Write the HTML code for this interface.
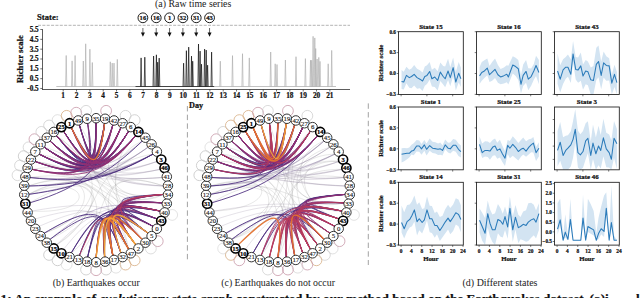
<!DOCTYPE html>
<html><head><meta charset="utf-8"><style>
html,body{margin:0;padding:0;background:#fff;width:640px;height:298px;overflow:hidden}
svg{display:block}
text{font-family:"Liberation Serif", serif}
text[font-weight=bold]{stroke:#111;stroke-width:0.22px;paint-order:fill}
</style></head><body>
<svg width="640" height="298" viewBox="0 0 640 298">
<rect width="640" height="298" fill="#fff"/>
<text x="193.2" y="7.2" font-size="9.85" text-anchor="middle" fill="#222">(a) Raw time series</text>
<text x="37.1" y="20.2" font-size="8.6" font-weight="bold" fill="#111">State:</text>
<line x1="38" y1="25.3" x2="350" y2="25.3" stroke="#9a9a9a" stroke-width="0.75" stroke-dasharray="3,1.36"/>
<circle cx="142.90" cy="17.8" r="4.9" fill="#fff" stroke="#111" stroke-width="0.95"/>
<text x="142.90" y="20.0" font-size="6.6" font-weight="bold" text-anchor="middle" fill="#111">16</text>
<line x1="142.90" y1="28.0" x2="142.90" y2="33.5" stroke="#444" stroke-width="0.8"/>
<path d="M140.90,32.4 L144.90,32.4 L142.90,36.8 Z" fill="#111"/>
<circle cx="156.23" cy="17.8" r="4.9" fill="#fff" stroke="#111" stroke-width="0.95"/>
<text x="156.23" y="20.0" font-size="6.6" font-weight="bold" text-anchor="middle" fill="#111">16</text>
<line x1="156.23" y1="28.0" x2="156.23" y2="33.5" stroke="#444" stroke-width="0.8"/>
<path d="M154.23,32.4 L158.23,32.4 L156.23,36.8 Z" fill="#111"/>
<circle cx="169.56" cy="17.8" r="4.9" fill="#fff" stroke="#111" stroke-width="0.95"/>
<text x="169.56" y="20.0" font-size="6.6" font-weight="bold" text-anchor="middle" fill="#111">1</text>
<line x1="169.56" y1="28.0" x2="169.56" y2="33.5" stroke="#444" stroke-width="0.8"/>
<path d="M167.56,32.4 L171.56,32.4 L169.56,36.8 Z" fill="#111"/>
<circle cx="182.90" cy="17.8" r="4.9" fill="#fff" stroke="#111" stroke-width="0.95"/>
<text x="182.90" y="20.0" font-size="6.6" font-weight="bold" text-anchor="middle" fill="#111">32</text>
<line x1="182.90" y1="28.0" x2="182.90" y2="33.5" stroke="#444" stroke-width="0.8"/>
<path d="M180.90,32.4 L184.90,32.4 L182.90,36.8 Z" fill="#111"/>
<circle cx="196.23" cy="17.8" r="4.9" fill="#fff" stroke="#111" stroke-width="0.95"/>
<text x="196.23" y="20.0" font-size="6.6" font-weight="bold" text-anchor="middle" fill="#111">31</text>
<line x1="196.23" y1="28.0" x2="196.23" y2="33.5" stroke="#444" stroke-width="0.8"/>
<path d="M194.23,32.4 L198.23,32.4 L196.23,36.8 Z" fill="#111"/>
<circle cx="209.56" cy="17.8" r="4.9" fill="#fff" stroke="#111" stroke-width="0.95"/>
<text x="209.56" y="20.0" font-size="6.6" font-weight="bold" text-anchor="middle" fill="#111">43</text>
<line x1="209.56" y1="28.0" x2="209.56" y2="33.5" stroke="#444" stroke-width="0.8"/>
<path d="M207.56,32.4 L211.56,32.4 L209.56,36.8 Z" fill="#111"/>
<line x1="42.5" y1="29.2" x2="42.5" y2="89.9" stroke="#333" stroke-width="0.8"/>
<line x1="42.1" y1="89.5" x2="350" y2="89.5" stroke="#333" stroke-width="0.8"/>
<line x1="40.3" y1="29.50" x2="42.5" y2="29.50" stroke="#333" stroke-width="0.7"/>
<text x="38.7" y="31.95" font-size="7.2" font-weight="bold" text-anchor="end" fill="#111">5.5</text>
<line x1="40.3" y1="39.33" x2="42.5" y2="39.33" stroke="#333" stroke-width="0.7"/>
<text x="38.7" y="41.78" font-size="7.2" font-weight="bold" text-anchor="end" fill="#111">4.5</text>
<line x1="40.3" y1="49.16" x2="42.5" y2="49.16" stroke="#333" stroke-width="0.7"/>
<text x="38.7" y="51.61" font-size="7.2" font-weight="bold" text-anchor="end" fill="#111">3.5</text>
<line x1="40.3" y1="58.99" x2="42.5" y2="58.99" stroke="#333" stroke-width="0.7"/>
<text x="38.7" y="61.44" font-size="7.2" font-weight="bold" text-anchor="end" fill="#111">2.5</text>
<line x1="40.3" y1="68.82" x2="42.5" y2="68.82" stroke="#333" stroke-width="0.7"/>
<text x="38.7" y="71.27" font-size="7.2" font-weight="bold" text-anchor="end" fill="#111">1.5</text>
<line x1="40.3" y1="78.65" x2="42.5" y2="78.65" stroke="#333" stroke-width="0.7"/>
<text x="38.7" y="81.10" font-size="7.2" font-weight="bold" text-anchor="end" fill="#111">0.5</text>
<line x1="40.3" y1="88.48" x2="42.5" y2="88.48" stroke="#333" stroke-width="0.7"/>
<text x="38.7" y="90.93" font-size="7.2" font-weight="bold" text-anchor="end" fill="#111">-0.5</text>
<text transform="translate(22.5,59) rotate(-90)" font-size="8.7" font-weight="bold" text-anchor="middle" fill="#111">Richter scale</text>
<line x1="63.20" y1="89.5" x2="63.20" y2="91.5" stroke="#333" stroke-width="0.7"/>
<text x="63.20" y="97.9" font-size="7.3" font-weight="bold" text-anchor="middle" fill="#111">1</text>
<line x1="76.53" y1="89.5" x2="76.53" y2="91.5" stroke="#333" stroke-width="0.7"/>
<text x="76.53" y="97.9" font-size="7.3" font-weight="bold" text-anchor="middle" fill="#111">2</text>
<line x1="89.87" y1="89.5" x2="89.87" y2="91.5" stroke="#333" stroke-width="0.7"/>
<text x="89.87" y="97.9" font-size="7.3" font-weight="bold" text-anchor="middle" fill="#111">3</text>
<line x1="103.20" y1="89.5" x2="103.20" y2="91.5" stroke="#333" stroke-width="0.7"/>
<text x="103.20" y="97.9" font-size="7.3" font-weight="bold" text-anchor="middle" fill="#111">4</text>
<line x1="116.53" y1="89.5" x2="116.53" y2="91.5" stroke="#333" stroke-width="0.7"/>
<text x="116.53" y="97.9" font-size="7.3" font-weight="bold" text-anchor="middle" fill="#111">5</text>
<line x1="129.87" y1="89.5" x2="129.87" y2="91.5" stroke="#333" stroke-width="0.7"/>
<text x="129.87" y="97.9" font-size="7.3" font-weight="bold" text-anchor="middle" fill="#111">6</text>
<line x1="143.20" y1="89.5" x2="143.20" y2="91.5" stroke="#333" stroke-width="0.7"/>
<text x="143.20" y="97.9" font-size="7.3" font-weight="bold" text-anchor="middle" fill="#111">7</text>
<line x1="156.53" y1="89.5" x2="156.53" y2="91.5" stroke="#333" stroke-width="0.7"/>
<text x="156.53" y="97.9" font-size="7.3" font-weight="bold" text-anchor="middle" fill="#111">8</text>
<line x1="169.86" y1="89.5" x2="169.86" y2="91.5" stroke="#333" stroke-width="0.7"/>
<text x="169.86" y="97.9" font-size="7.3" font-weight="bold" text-anchor="middle" fill="#111">9</text>
<line x1="183.20" y1="89.5" x2="183.20" y2="91.5" stroke="#333" stroke-width="0.7"/>
<text x="183.20" y="97.9" font-size="7.3" font-weight="bold" text-anchor="middle" fill="#111">10</text>
<line x1="196.53" y1="89.5" x2="196.53" y2="91.5" stroke="#333" stroke-width="0.7"/>
<text x="196.53" y="97.9" font-size="7.3" font-weight="bold" text-anchor="middle" fill="#111">11</text>
<line x1="209.86" y1="89.5" x2="209.86" y2="91.5" stroke="#333" stroke-width="0.7"/>
<text x="209.86" y="97.9" font-size="7.3" font-weight="bold" text-anchor="middle" fill="#111">12</text>
<line x1="223.20" y1="89.5" x2="223.20" y2="91.5" stroke="#333" stroke-width="0.7"/>
<text x="223.20" y="97.9" font-size="7.3" font-weight="bold" text-anchor="middle" fill="#111">13</text>
<line x1="236.53" y1="89.5" x2="236.53" y2="91.5" stroke="#333" stroke-width="0.7"/>
<text x="236.53" y="97.9" font-size="7.3" font-weight="bold" text-anchor="middle" fill="#111">14</text>
<line x1="249.86" y1="89.5" x2="249.86" y2="91.5" stroke="#333" stroke-width="0.7"/>
<text x="249.86" y="97.9" font-size="7.3" font-weight="bold" text-anchor="middle" fill="#111">15</text>
<line x1="263.19" y1="89.5" x2="263.19" y2="91.5" stroke="#333" stroke-width="0.7"/>
<text x="263.19" y="97.9" font-size="7.3" font-weight="bold" text-anchor="middle" fill="#111">16</text>
<line x1="276.53" y1="89.5" x2="276.53" y2="91.5" stroke="#333" stroke-width="0.7"/>
<text x="276.53" y="97.9" font-size="7.3" font-weight="bold" text-anchor="middle" fill="#111">17</text>
<line x1="289.86" y1="89.5" x2="289.86" y2="91.5" stroke="#333" stroke-width="0.7"/>
<text x="289.86" y="97.9" font-size="7.3" font-weight="bold" text-anchor="middle" fill="#111">18</text>
<line x1="303.19" y1="89.5" x2="303.19" y2="91.5" stroke="#333" stroke-width="0.7"/>
<text x="303.19" y="97.9" font-size="7.3" font-weight="bold" text-anchor="middle" fill="#111">19</text>
<line x1="316.53" y1="89.5" x2="316.53" y2="91.5" stroke="#333" stroke-width="0.7"/>
<text x="316.53" y="97.9" font-size="7.3" font-weight="bold" text-anchor="middle" fill="#111">20</text>
<line x1="329.86" y1="89.5" x2="329.86" y2="91.5" stroke="#333" stroke-width="0.7"/>
<text x="329.86" y="97.9" font-size="7.3" font-weight="bold" text-anchor="middle" fill="#111">21</text>
<text x="189.1" y="108.4" font-size="8.2" font-weight="bold" fill="#111">Day</text>
<line x1="56.3" y1="86.5" x2="336" y2="86.5" stroke="#b4b4b4" stroke-width="0.8"/>
<line x1="135.5" y1="86.5" x2="214.2" y2="86.5" stroke="#222" stroke-width="0.8"/>
<path d="M65.60,86.5 L66.20,55.50 L66.80,86.5 M71.50,86.5 L72.10,60.90 L72.70,86.5 M74.50,86.5 L75.10,55.50 L75.70,86.5 M82.70,86.5 L83.30,61.00 L83.90,86.5 M85.10,86.5 L85.70,43.80 L86.30,86.5 M89.30,86.5 L89.90,49.20 L90.50,86.5 M91.70,86.5 L92.30,62.50 L92.90,86.5 M109.70,86.5 L110.30,61.80 L110.90,86.5 M111.60,86.5 L112.20,63.10 L112.80,86.5 M113.40,86.5 L114.00,63.10 L114.60,86.5 M116.70,86.5 L117.30,59.40 L117.90,86.5 " fill="none" stroke="#a8a8a8" stroke-width="0.6" stroke-linejoin="miter"/>
<path d="M219.70,86.5 L220.30,61.20 L220.90,86.5 M231.90,86.5 L232.50,55.60 L233.10,86.5 M241.90,86.5 L242.50,53.70 L243.10,86.5 M248.70,86.5 L249.30,57.90 L249.90,86.5 M270.10,86.5 L270.70,52.00 L271.30,86.5 M274.60,86.5 L275.20,63.80 L275.80,86.5 M276.40,86.5 L277.00,64.50 L277.60,86.5 M284.80,86.5 L285.40,60.00 L286.00,86.5 M295.40,86.5 L296.00,56.70 L296.60,86.5 M304.80,86.5 L305.40,58.60 L306.00,86.5 M309.90,86.5 L310.50,60.20 L311.10,86.5 M311.10,86.5 L311.70,60.20 L312.30,86.5 M312.50,86.5 L313.10,36.30 L313.70,86.5 M314.20,86.5 L314.80,37.90 L315.40,86.5 M315.10,86.5 L315.70,48.50 L316.30,86.5 M316.50,86.5 L317.10,59.00 L317.70,86.5 M318.20,86.5 L318.80,57.40 L319.40,86.5 M319.40,86.5 L320.00,61.40 L320.60,86.5 M327.60,86.5 L328.20,63.80 L328.80,86.5 M331.10,86.5 L331.70,50.40 L332.30,86.5 " fill="none" stroke="#a8a8a8" stroke-width="0.6" stroke-linejoin="miter"/>
<path d="M140.50,86.5 L141.10,57.90 L141.70,86.5 M144.20,86.5 L144.80,57.20 L145.40,86.5 M153.00,86.5 L153.60,56.00 L154.20,86.5 M155.80,86.5 L156.40,54.80 L157.00,86.5 M157.10,86.5 L157.70,62.20 L158.30,86.5 M158.60,86.5 L159.20,58.10 L159.80,86.5 M183.00,86.5 L183.60,63.20 L184.20,86.5 M185.80,86.5 L186.40,50.70 L187.00,86.5 M188.10,86.5 L188.70,47.10 L189.30,86.5 M190.90,86.5 L191.50,56.10 L192.10,86.5 M192.10,86.5 L192.70,61.20 L193.30,86.5 M197.90,86.5 L198.50,44.00 L199.10,86.5 M199.50,86.5 L200.10,51.10 L200.70,86.5 M200.90,86.5 L201.50,64.20 L202.10,86.5 M204.00,86.5 L204.60,49.10 L205.20,86.5 M205.60,86.5 L206.20,50.10 L206.80,86.5 M207.00,86.5 L207.60,65.20 L208.20,86.5 M211.00,86.5 L211.60,52.10 L212.20,86.5 " fill="none" stroke="#111" stroke-width="0.7" stroke-linejoin="miter"/>
<line x1="187.4" y1="106" x2="187.4" y2="261" stroke="#8a8a8a" stroke-width="0.8" stroke-dasharray="5.4,3.3"/>
<line x1="368.3" y1="103.4" x2="368.3" y2="265" stroke="#8a8a8a" stroke-width="0.8" stroke-dasharray="5.4,3.3"/>
<circle cx="17.52" cy="175.21" r="5.4" fill="none" stroke="#c9c9c9" stroke-width="0.9" stroke-opacity="0.75"/>
<circle cx="20.02" cy="165.48" r="5.4" fill="none" stroke="#c9c9c9" stroke-width="0.9" stroke-opacity="0.80"/>
<circle cx="23.71" cy="156.14" r="5.4" fill="none" stroke="#c9c9c9" stroke-width="0.9" stroke-opacity="0.97"/>
<circle cx="28.55" cy="147.33" r="5.4" fill="none" stroke="#c9c9c9" stroke-width="0.9" stroke-opacity="0.76"/>
<circle cx="34.46" cy="139.21" r="5.4" fill="none" stroke="#c99aaa" stroke-width="0.9" stroke-opacity="0.90"/>
<circle cx="41.34" cy="131.88" r="5.4" fill="none" stroke="#c9c9c9" stroke-width="0.9" stroke-opacity="0.78"/>
<circle cx="49.08" cy="125.48" r="5.4" fill="none" stroke="#c9c9c9" stroke-width="0.9" stroke-opacity="0.81"/>
<circle cx="57.56" cy="120.10" r="5.4" fill="none" stroke="#c9c9c9" stroke-width="0.9" stroke-opacity="0.63"/>
<circle cx="66.65" cy="115.82" r="5.4" fill="none" stroke="#d7ae85" stroke-width="0.9" stroke-opacity="0.90"/>
<circle cx="76.20" cy="112.71" r="5.4" fill="none" stroke="#c99aaa" stroke-width="0.9" stroke-opacity="0.90"/>
<circle cx="86.07" cy="110.83" r="5.4" fill="none" stroke="#c9c9c9" stroke-width="0.9" stroke-opacity="0.78"/>
<circle cx="106.13" cy="110.83" r="5.4" fill="none" stroke="#c99aaa" stroke-width="0.9" stroke-opacity="0.90"/>
<circle cx="125.55" cy="115.82" r="5.4" fill="none" stroke="#c9c9c9" stroke-width="0.9" stroke-opacity="0.83"/>
<circle cx="134.64" cy="120.10" r="5.4" fill="none" stroke="#c9c9c9" stroke-width="0.9" stroke-opacity="0.91"/>
<circle cx="172.18" cy="214.92" r="5.4" fill="none" stroke="#c9c9c9" stroke-width="0.9" stroke-opacity="0.59"/>
<circle cx="157.74" cy="241.19" r="5.4" fill="none" stroke="#c99aaa" stroke-width="0.9" stroke-opacity="0.90"/>
<circle cx="150.86" cy="248.52" r="5.4" fill="none" stroke="#c9c9c9" stroke-width="0.9" stroke-opacity="0.69"/>
<circle cx="134.64" cy="260.30" r="5.4" fill="none" stroke="#d7ae85" stroke-width="0.9" stroke-opacity="0.90"/>
<circle cx="125.55" cy="264.58" r="5.4" fill="none" stroke="#d7ae85" stroke-width="0.9" stroke-opacity="0.90"/>
<circle cx="116.00" cy="267.69" r="5.4" fill="none" stroke="#c9c9c9" stroke-width="0.9" stroke-opacity="0.59"/>
<circle cx="106.13" cy="269.57" r="5.4" fill="none" stroke="#c9c9c9" stroke-width="0.9" stroke-opacity="0.91"/>
<circle cx="96.10" cy="270.20" r="5.4" fill="none" stroke="#c99aaa" stroke-width="0.9" stroke-opacity="0.90"/>
<circle cx="86.07" cy="269.57" r="5.4" fill="none" stroke="#c9c9c9" stroke-width="0.9" stroke-opacity="0.86"/>
<circle cx="66.65" cy="264.58" r="5.4" fill="none" stroke="#c9c9c9" stroke-width="0.9" stroke-opacity="0.57"/>
<circle cx="57.56" cy="260.30" r="5.4" fill="none" stroke="#c9c9c9" stroke-width="0.9" stroke-opacity="0.99"/>
<circle cx="49.08" cy="254.92" r="5.4" fill="none" stroke="#c9c9c9" stroke-width="0.9" stroke-opacity="0.98"/>
<path d="M135.8,135.5 C99.9,167.3 121.7,214.6 128.7,249.4 M112.9,124.7 C102.3,167.1 105.1,204.9 163.6,194.4 M34.9,161.4 C91.0,168.4 108.2,205.6 157.3,219.0 M44.0,147.1 C99.6,161.9 103.5,216.3 163.6,194.4 M79.3,124.7 C100.4,157.2 113.9,210.4 148.2,233.3 M31.8,169.3 C105.4,156.3 117.7,217.6 163.6,194.4 M34.9,161.4 C89.0,169.7 112.0,213.7 148.2,233.3 M39.0,154.0 C104.7,165.9 122.3,216.7 148.2,233.3 M56.4,135.5 C90.8,158.5 102.6,205.1 163.6,194.4 M56.4,135.5 C96.2,164.5 116.1,205.1 44.0,233.3 M71.2,127.3 C93.6,160.6 110.6,214.1 121.0,253.1 M28.6,194.4 C105.5,156.5 117.1,216.0 128.7,249.4 M29.7,202.9 C101.0,161.3 113.0,204.3 56.4,244.9 M28.6,194.4 C86.4,169.6 103.8,214.8 31.8,211.1 M163.6,186.0 C90.4,161.2 111.7,215.1 79.3,255.7 M29.7,177.5 C100.1,167.4 119.7,204.7 49.8,239.5 M28.6,186.0 C90.3,164.8 121.1,209.0 142.4,239.5 M153.2,154.0 C84.3,165.8 106.4,215.4 56.4,244.9 M142.4,140.9 C99.4,160.5 110.7,214.3 153.2,226.4 M28.6,186.0 C94.9,161.9 104.8,212.5 44.0,233.3 M163.6,186.0 C93.0,162.1 100.4,217.0 128.7,249.4 M28.6,194.4 C90.1,159.1 122.7,212.1 71.2,253.1 " fill="none" stroke="#8d8d8d" stroke-width="0.45" stroke-opacity="0.45"/>
<path d="M28.6,194.4 C83.1,185.3 107.0,175.9 148.2,147.1" fill="none" stroke="#6a5590" stroke-width="0.60" stroke-opacity="0.6"/>
<path d="M28.6,186.0 C81.9,183.4 106.8,177.0 153.2,154.0" fill="none" stroke="#6a5590" stroke-width="0.60" stroke-opacity="0.6"/>
<path d="M29.7,177.5 C83.1,181.1 107.8,176.4 153.2,154.0" fill="none" stroke="#6a5590" stroke-width="0.60" stroke-opacity="0.6"/>
<path d="M49.8,140.9 C86.1,173.4 104.6,173.4 142.4,140.9" fill="none" stroke="#8c7f98" stroke-width="0.50" stroke-opacity="0.45"/>
<path d="M29.7,177.5 C84.2,182.6 106.8,175.3 142.4,140.9" fill="none" stroke="#8c7f98" stroke-width="0.50" stroke-opacity="0.45"/>
<path d="M63.5,131.0 C89.6,172.2 105.4,174.2 142.4,140.9" fill="none" stroke="#8c7f98" stroke-width="0.50" stroke-opacity="0.45"/>
<path d="M44.0,147.1 C87.4,176.1 108.3,176.1 148.2,147.1" fill="none" stroke="#8c7f98" stroke-width="0.50" stroke-opacity="0.45"/>
<path d="M28.6,186.0 C82.4,185.0 106.4,177.2 148.2,147.1" fill="none" stroke="#8c7f98" stroke-width="0.50" stroke-opacity="0.45"/>
<path d="M63.5,131.0 C90.2,172.5 107.1,175.8 148.2,147.1" fill="none" stroke="#8c7f98" stroke-width="0.50" stroke-opacity="0.45"/>
<path d="M71.2,127.3 C93.0,172.0 109.4,177.3 153.2,154.0" fill="none" stroke="#8c7f98" stroke-width="0.50" stroke-opacity="0.45"/>
<path d="M39.0,154.0 C85.0,178.0 107.8,178.0 153.2,154.0" fill="none" stroke="#8c7f98" stroke-width="0.50" stroke-opacity="0.45"/>
<path d="M29.7,177.5 C82.8,183.2 107.5,178.5 153.2,154.0" fill="none" stroke="#8c7f98" stroke-width="0.50" stroke-opacity="0.45"/>
<path d="M39.0,154.0 C84.0,177.7 107.6,179.1 157.3,161.4" fill="none" stroke="#8c7f98" stroke-width="0.50" stroke-opacity="0.45"/>
<path d="M63.5,131.0 C90.8,172.1 109.5,178.2 157.3,161.4" fill="none" stroke="#8c7f98" stroke-width="0.50" stroke-opacity="0.45"/>
<path d="M63.5,131.0 C89.2,171.2 107.9,177.3 157.3,161.4" fill="none" stroke="#8c7f98" stroke-width="0.50" stroke-opacity="0.45"/>
<path d="M44.0,147.1 C87.5,175.4 110.8,179.8 160.4,169.3" fill="none" stroke="#8c7f98" stroke-width="0.50" stroke-opacity="0.45"/>
<path d="M71.2,127.3 C92.9,170.9 110.7,179.3 160.4,169.3" fill="none" stroke="#8c7f98" stroke-width="0.50" stroke-opacity="0.45"/>
<path d="M39.0,154.0 C83.6,177.9 107.8,180.9 160.4,169.3" fill="none" stroke="#8c7f98" stroke-width="0.50" stroke-opacity="0.45"/>
<path d="M44.0,147.1 C87.6,175.2 111.3,181.3 162.5,177.5" fill="none" stroke="#8c7f98" stroke-width="0.50" stroke-opacity="0.45"/>
<path d="M31.8,169.3 C82.2,179.3 108.3,180.9 162.5,177.5" fill="none" stroke="#8c7f98" stroke-width="0.50" stroke-opacity="0.45"/>
<path d="M49.8,140.9 C86.9,174.7 109.4,182.0 162.5,177.5" fill="none" stroke="#8c7f98" stroke-width="0.50" stroke-opacity="0.45"/>
<path d="M49.8,140.9 C87.4,173.9 110.2,182.9 163.6,186.0" fill="none" stroke="#8c7f98" stroke-width="0.50" stroke-opacity="0.45"/>
<path d="M71.2,127.3 C91.4,170.5 109.9,182.3 163.6,186.0" fill="none" stroke="#8c7f98" stroke-width="0.50" stroke-opacity="0.45"/>
<path d="M79.3,124.7 C93.1,172.6 110.0,184.9 163.6,186.0" fill="none" stroke="#8c7f98" stroke-width="0.50" stroke-opacity="0.45"/>
<path d="M29.7,202.9 C83.9,186.4 100.6,170.8 112.9,124.7" fill="none" stroke="#4a2a7c" stroke-width="1.00" stroke-opacity="0.85"/>
<path d="M28.6,194.4 C83.0,187.0 105.7,176.3 142.4,140.9" fill="none" stroke="#4a2a7c" stroke-width="1.00" stroke-opacity="0.85"/>
<path d="M28.6,186.0 C83.1,184.9 108.0,178.5 153.2,154.0" fill="none" stroke="#4a2a7c" stroke-width="1.00" stroke-opacity="0.85"/>
<path d="M29.7,177.5 C84.4,183.3 109.1,178.6 153.2,154.0" fill="none" stroke="#4a2a7c" stroke-width="1.00" stroke-opacity="0.85"/>
<path d="M31.8,169.3 C82.1,179.2 98.3,170.3 112.9,124.7" fill="none" stroke="#4a2a7c" stroke-width="1.00" stroke-opacity="0.85"/>
<path d="M34.9,161.4 C83.6,179.5 103.8,174.3 135.8,135.5" fill="none" stroke="#4a2a7c" stroke-width="1.00" stroke-opacity="0.85"/>
<path d="M34.9,161.4 C84.6,179.6 96.9,171.8 96.1,122.6" fill="none" stroke="#4a2a7c" stroke-width="1.00" stroke-opacity="0.85"/>
<path d="M34.9,161.4 C82.8,178.4 98.3,171.0 112.9,124.7" fill="none" stroke="#4a2a7c" stroke-width="1.00" stroke-opacity="0.85"/>
<path d="M39.0,154.0 C85.7,178.4 98.8,172.2 104.6,123.1" fill="none" stroke="#4a2a7c" stroke-width="1.00" stroke-opacity="0.85"/>
<path d="M39.0,154.0 C83.9,175.8 103.3,172.1 135.8,135.5" fill="none" stroke="#4a2a7c" stroke-width="1.00" stroke-opacity="0.85"/>
<path d="M39.0,154.0 C85.3,177.9 103.2,173.3 128.7,131.0" fill="none" stroke="#4a2a7c" stroke-width="1.00" stroke-opacity="0.85"/>
<path d="M39.0,154.0 C83.8,178.0 103.2,174.3 135.8,135.5" fill="none" stroke="#4a2a7c" stroke-width="1.00" stroke-opacity="0.85"/>
<path d="M44.0,147.1 C85.1,175.8 102.0,172.5 128.7,131.0" fill="none" stroke="#4a2a7c" stroke-width="1.00" stroke-opacity="0.85"/>
<path d="M44.0,147.1 C87.1,176.3 99.2,171.5 104.6,123.1" fill="none" stroke="#4a2a7c" stroke-width="1.00" stroke-opacity="0.85"/>
<path d="M44.0,147.1 C86.7,177.4 98.8,172.6 104.6,123.1" fill="none" stroke="#4a2a7c" stroke-width="1.00" stroke-opacity="0.85"/>
<path d="M44.0,147.1 C86.6,177.1 102.0,173.2 121.0,127.3" fill="none" stroke="#4a2a7c" stroke-width="1.00" stroke-opacity="0.85"/>
<path d="M49.8,140.9 C88.3,174.7 105.5,173.6 135.8,135.5" fill="none" stroke="#4a2a7c" stroke-width="1.00" stroke-opacity="0.85"/>
<path d="M49.8,140.9 C87.8,175.4 98.8,171.9 104.6,123.1" fill="none" stroke="#4a2a7c" stroke-width="1.00" stroke-opacity="0.85"/>
<path d="M49.8,140.9 C88.5,174.6 101.1,171.4 112.9,124.7" fill="none" stroke="#4a2a7c" stroke-width="1.00" stroke-opacity="0.85"/>
<path d="M49.8,140.9 C88.1,174.1 103.8,172.1 128.7,131.0" fill="none" stroke="#4a2a7c" stroke-width="1.00" stroke-opacity="0.85"/>
<path d="M56.4,135.5 C87.0,174.6 96.6,172.1 104.6,123.1" fill="none" stroke="#4a2a7c" stroke-width="1.00" stroke-opacity="0.85"/>
<path d="M56.4,135.5 C88.8,174.1 103.3,173.2 128.7,131.0" fill="none" stroke="#4a2a7c" stroke-width="1.00" stroke-opacity="0.85"/>
<path d="M56.4,135.5 C88.5,173.1 98.1,170.6 104.6,123.1" fill="none" stroke="#4a2a7c" stroke-width="1.00" stroke-opacity="0.85"/>
<path d="M56.4,135.5 C87.5,174.3 97.1,171.8 104.6,123.1" fill="none" stroke="#4a2a7c" stroke-width="1.00" stroke-opacity="0.85"/>
<path d="M63.5,131.0 C91.2,174.3 102.7,173.5 121.0,127.3" fill="none" stroke="#4a2a7c" stroke-width="1.00" stroke-opacity="0.85"/>
<path d="M63.5,131.0 C90.1,172.5 101.6,171.8 121.0,127.3" fill="none" stroke="#4a2a7c" stroke-width="1.00" stroke-opacity="0.85"/>
<path d="M63.5,131.0 C90.1,171.3 96.6,169.6 96.1,122.6" fill="none" stroke="#4a2a7c" stroke-width="1.00" stroke-opacity="0.85"/>
<path d="M63.5,131.0 C90.7,172.0 98.9,170.4 104.6,123.1" fill="none" stroke="#4a2a7c" stroke-width="1.00" stroke-opacity="0.85"/>
<path d="M71.2,127.3 C90.2,170.6 100.1,170.6 121.0,127.3" fill="none" stroke="#4a2a7c" stroke-width="1.00" stroke-opacity="0.85"/>
<path d="M71.2,127.3 C92.9,171.5 104.4,172.2 128.7,131.0" fill="none" stroke="#4a2a7c" stroke-width="1.00" stroke-opacity="0.85"/>
<path d="M79.3,124.7 C92.9,170.1 96.3,169.7 96.1,122.6" fill="none" stroke="#4a2a7c" stroke-width="1.00" stroke-opacity="0.85"/>
<path d="M79.3,124.7 C92.8,171.5 101.2,172.0 121.0,127.3" fill="none" stroke="#4a2a7c" stroke-width="1.00" stroke-opacity="0.85"/>
<path d="M79.3,124.7 C91.9,170.3 95.3,169.9 96.1,122.6" fill="none" stroke="#4a2a7c" stroke-width="1.00" stroke-opacity="0.85"/>
<path d="M79.3,124.7 C93.5,172.5 103.4,173.8 128.7,131.0" fill="none" stroke="#4a2a7c" stroke-width="1.00" stroke-opacity="0.85"/>
<path d="M56.4,135.5 C87.3,174.9 93.6,172.5 87.6,123.1" fill="none" stroke="#4a2a7c" stroke-width="1.00" stroke-opacity="0.85"/>
<path d="M44.0,147.1 C87.7,176.6 96.4,171.8 87.6,123.1" fill="none" stroke="#4a2a7c" stroke-width="1.00" stroke-opacity="0.85"/>
<path d="M44.0,147.1 C85.9,175.0 96.3,170.1 96.1,122.6" fill="none" stroke="#4a2a7c" stroke-width="1.00" stroke-opacity="0.85"/>
<path d="M49.8,140.9 C86.2,175.7 95.5,172.0 96.1,122.6" fill="none" stroke="#4a2a7c" stroke-width="1.00" stroke-opacity="0.85"/>
<path d="M56.4,135.5 C87.2,172.7 96.8,170.3 104.6,123.1" fill="none" stroke="#4a2a7c" stroke-width="1.00" stroke-opacity="0.85"/>
<path d="M63.5,131.0 C90.2,173.3 98.4,171.7 104.6,123.1" fill="none" stroke="#4a2a7c" stroke-width="1.00" stroke-opacity="0.85"/>
<path d="M44.0,147.1 C86.9,175.3 103.8,172.0 128.7,131.0" fill="none" stroke="#4a2a7c" stroke-width="1.00" stroke-opacity="0.85"/>
<path d="M71.2,127.3 C91.8,170.8 103.2,171.5 128.7,131.0" fill="none" stroke="#4a2a7c" stroke-width="1.00" stroke-opacity="0.85"/>
<path d="M39.0,154.0 C84.8,177.8 104.1,174.1 135.8,135.5" fill="none" stroke="#4a2a7c" stroke-width="1.00" stroke-opacity="0.85"/>
<path d="M56.4,135.5 C87.0,172.4 102.9,172.4 135.8,135.5" fill="none" stroke="#4a2a7c" stroke-width="1.00" stroke-opacity="0.85"/>
<path d="M31.8,169.3 C84.2,180.4 95.4,171.2 87.6,123.1" fill="none" stroke="#922f72" stroke-width="1.00" stroke-opacity="0.85"/>
<path d="M31.8,169.3 C83.2,180.9 104.0,174.2 135.8,135.5" fill="none" stroke="#922f72" stroke-width="1.00" stroke-opacity="0.85"/>
<path d="M31.8,169.3 C85.0,179.3 97.8,169.9 96.1,122.6" fill="none" stroke="#922f72" stroke-width="1.00" stroke-opacity="0.85"/>
<path d="M34.9,161.4 C83.6,179.1 100.8,172.2 121.0,127.3" fill="none" stroke="#922f72" stroke-width="1.00" stroke-opacity="0.85"/>
<path d="M34.9,161.4 C84.8,178.2 105.0,173.0 135.8,135.5" fill="none" stroke="#922f72" stroke-width="1.00" stroke-opacity="0.85"/>
<path d="M39.0,154.0 C86.5,177.5 104.4,172.9 128.7,131.0" fill="none" stroke="#922f72" stroke-width="1.00" stroke-opacity="0.85"/>
<path d="M44.0,147.1 C85.2,174.6 97.3,169.8 104.6,123.1" fill="none" stroke="#922f72" stroke-width="1.00" stroke-opacity="0.85"/>
<path d="M44.0,147.1 C85.2,177.0 103.6,174.7 135.8,135.5" fill="none" stroke="#922f72" stroke-width="1.00" stroke-opacity="0.85"/>
<path d="M49.8,140.9 C86.6,176.3 99.2,173.0 112.9,124.7" fill="none" stroke="#922f72" stroke-width="1.00" stroke-opacity="0.85"/>
<path d="M49.8,140.9 C88.2,175.9 105.4,174.8 135.8,135.5" fill="none" stroke="#922f72" stroke-width="1.00" stroke-opacity="0.85"/>
<path d="M56.4,135.5 C88.4,173.3 102.9,172.4 128.7,131.0" fill="none" stroke="#922f72" stroke-width="1.00" stroke-opacity="0.85"/>
<path d="M56.4,135.5 C87.4,172.1 103.3,172.1 135.8,135.5" fill="none" stroke="#922f72" stroke-width="1.00" stroke-opacity="0.85"/>
<path d="M63.5,131.0 C89.5,173.0 103.9,173.9 135.8,135.5" fill="none" stroke="#922f72" stroke-width="1.00" stroke-opacity="0.85"/>
<path d="M63.5,131.0 C88.5,173.9 101.5,173.9 128.7,131.0" fill="none" stroke="#922f72" stroke-width="1.00" stroke-opacity="0.85"/>
<path d="M71.2,127.3 C91.5,171.9 96.5,170.9 96.1,122.6" fill="none" stroke="#922f72" stroke-width="1.00" stroke-opacity="0.85"/>
<path d="M71.2,127.3 C91.2,171.9 104.1,173.5 135.8,135.5" fill="none" stroke="#922f72" stroke-width="1.00" stroke-opacity="0.85"/>
<path d="M71.2,127.3 C93.0,170.8 103.0,170.8 121.0,127.3" fill="none" stroke="#922f72" stroke-width="1.00" stroke-opacity="0.85"/>
<path d="M71.2,127.3 C91.6,172.2 98.3,171.3 104.6,123.1" fill="none" stroke="#922f72" stroke-width="1.00" stroke-opacity="0.85"/>
<path d="M79.3,124.7 C92.8,172.6 101.1,173.1 121.0,127.3" fill="none" stroke="#922f72" stroke-width="1.00" stroke-opacity="0.85"/>
<path d="M56.4,135.5 C90.0,173.4 101.3,171.3 112.9,124.7" fill="none" stroke="#922f72" stroke-width="1.00" stroke-opacity="0.85"/>
<path d="M49.8,140.9 C88.2,175.5 100.8,172.3 112.9,124.7" fill="none" stroke="#922f72" stroke-width="1.00" stroke-opacity="0.85"/>
<path d="M71.2,127.3 C90.2,173.3 100.1,173.3 121.0,127.3" fill="none" stroke="#922f72" stroke-width="1.00" stroke-opacity="0.85"/>
<path d="M39.0,154.0 C85.1,176.4 101.4,171.1 121.0,127.3" fill="none" stroke="#922f72" stroke-width="1.00" stroke-opacity="0.85"/>
<path d="M71.2,127.3 C92.2,171.6 98.8,170.8 104.6,123.1" fill="none" stroke="#e3722f" stroke-width="1.30" stroke-opacity="0.95"/>
<path d="M63.5,249.4 C96.5,208.2 109.2,205.7 148.2,233.3" fill="none" stroke="#8c7f98" stroke-width="0.50" stroke-opacity="0.45"/>
<path d="M56.4,244.9 C95.6,207.3 111.2,202.2 160.4,211.1" fill="none" stroke="#8c7f98" stroke-width="0.50" stroke-opacity="0.45"/>
<path d="M49.8,239.5 C93.3,203.6 109.9,199.3 160.4,211.1" fill="none" stroke="#6a5590" stroke-width="0.60" stroke-opacity="0.6"/>
<path d="M44.0,233.3 C93.5,204.3 102.6,207.9 104.6,257.3" fill="none" stroke="#6a5590" stroke-width="0.60" stroke-opacity="0.6"/>
<path d="M39.0,226.4 C92.9,202.9 107.4,205.6 135.8,244.9" fill="none" stroke="#8c7f98" stroke-width="0.50" stroke-opacity="0.45"/>
<path d="M34.9,219.0 C92.5,202.9 105.4,208.0 121.0,253.1" fill="none" stroke="#8c7f98" stroke-width="0.50" stroke-opacity="0.45"/>
<path d="M31.8,211.1 C93.0,200.3 110.4,203.7 148.2,233.3" fill="none" stroke="#8c7f98" stroke-width="0.50" stroke-opacity="0.45"/>
<path d="M163.6,194.4 C111.1,199.6 103.5,208.8 112.9,255.7" fill="none" stroke="#6a5590" stroke-width="0.60" stroke-opacity="0.6"/>
<path d="M163.6,194.4 C110.4,197.2 108.1,203.0 148.2,233.3" fill="none" stroke="#6a5590" stroke-width="0.60" stroke-opacity="0.6"/>
<path d="M163.6,194.4 C110.7,197.1 105.4,205.3 128.7,249.4" fill="none" stroke="#6a5590" stroke-width="0.60" stroke-opacity="0.6"/>
<path d="M162.5,202.9 C112.1,200.8 110.7,204.4 153.2,226.4" fill="none" stroke="#6a5590" stroke-width="0.60" stroke-opacity="0.6"/>
<path d="M162.5,202.9 C110.5,198.5 106.5,204.8 135.8,244.9" fill="none" stroke="#6a5590" stroke-width="0.60" stroke-opacity="0.6"/>
<path d="M96.1,257.8 C99.8,207.1 107.6,203.4 148.2,233.3" fill="none" stroke="#4a2a7c" stroke-width="1.00" stroke-opacity="0.85"/>
<path d="M96.1,257.8 C99.8,207.7 104.7,206.5 128.7,249.4" fill="none" stroke="#4a2a7c" stroke-width="1.00" stroke-opacity="0.85"/>
<path d="M87.6,257.3 C100.2,207.0 107.4,205.2 135.8,244.9" fill="none" stroke="#4a2a7c" stroke-width="1.00" stroke-opacity="0.85"/>
<path d="M87.6,257.3 C98.4,208.6 104.6,207.4 128.7,249.4" fill="none" stroke="#4a2a7c" stroke-width="1.00" stroke-opacity="0.85"/>
<path d="M87.6,257.3 C98.4,206.9 102.2,206.7 112.9,255.7" fill="none" stroke="#4a2a7c" stroke-width="1.00" stroke-opacity="0.85"/>
<path d="M79.3,255.7 C98.0,207.2 108.3,203.9 148.2,233.3" fill="none" stroke="#4a2a7c" stroke-width="1.00" stroke-opacity="0.85"/>
<path d="M79.3,255.7 C97.3,207.4 104.7,206.5 128.7,249.4" fill="none" stroke="#4a2a7c" stroke-width="1.00" stroke-opacity="0.85"/>
<path d="M71.2,253.1 C96.8,208.1 109.7,203.0 157.3,219.0" fill="none" stroke="#4a2a7c" stroke-width="1.00" stroke-opacity="0.85"/>
<path d="M71.2,253.1 C97.7,208.6 111.0,202.3 160.4,211.1" fill="none" stroke="#4a2a7c" stroke-width="1.00" stroke-opacity="0.85"/>
<path d="M49.8,239.5 C94.8,206.1 105.5,208.2 121.0,253.1" fill="none" stroke="#4a2a7c" stroke-width="1.00" stroke-opacity="0.85"/>
<path d="M44.0,233.3 C93.6,204.1 105.2,207.1 121.0,253.1" fill="none" stroke="#4a2a7c" stroke-width="1.00" stroke-opacity="0.85"/>
<path d="M163.6,194.4 C112.4,199.0 108.2,206.6 135.8,244.9" fill="none" stroke="#4a2a7c" stroke-width="1.00" stroke-opacity="0.85"/>
<path d="M162.5,202.9 C112.7,200.5 111.3,204.1 153.2,226.4" fill="none" stroke="#4a2a7c" stroke-width="1.00" stroke-opacity="0.85"/>
<path d="M160.4,211.1 C111.5,200.2 109.7,203.5 148.2,233.3" fill="none" stroke="#4a2a7c" stroke-width="1.00" stroke-opacity="0.85"/>
<path d="M160.4,211.1 C111.9,200.6 110.1,203.9 148.2,233.3" fill="none" stroke="#4a2a7c" stroke-width="1.00" stroke-opacity="0.85"/>
<path d="M160.4,211.1 C109.6,199.5 101.2,206.4 104.6,257.3" fill="none" stroke="#4a2a7c" stroke-width="1.00" stroke-opacity="0.85"/>
<path d="M160.4,211.1 C109.7,200.2 106.0,205.2 135.8,244.9" fill="none" stroke="#4a2a7c" stroke-width="1.00" stroke-opacity="0.85"/>
<path d="M157.3,219.0 C111.0,201.4 111.8,199.0 162.5,202.9" fill="none" stroke="#4a2a7c" stroke-width="1.00" stroke-opacity="0.85"/>
<path d="M157.3,219.0 C108.9,203.1 105.7,207.0 135.8,244.9" fill="none" stroke="#4a2a7c" stroke-width="1.00" stroke-opacity="0.85"/>
<path d="M157.3,219.0 C110.6,200.6 102.7,206.3 104.6,257.3" fill="none" stroke="#4a2a7c" stroke-width="1.00" stroke-opacity="0.85"/>
<path d="M157.3,219.0 C108.8,200.9 109.8,197.2 163.6,194.4" fill="none" stroke="#4a2a7c" stroke-width="1.00" stroke-opacity="0.85"/>
<path d="M153.2,226.4 C109.3,204.5 102.0,209.1 104.6,257.3" fill="none" stroke="#4a2a7c" stroke-width="1.00" stroke-opacity="0.85"/>
<path d="M153.2,226.4 C111.3,203.7 106.5,207.7 121.0,253.1" fill="none" stroke="#4a2a7c" stroke-width="1.00" stroke-opacity="0.85"/>
<path d="M153.2,226.4 C108.8,203.0 102.8,207.4 112.9,255.7" fill="none" stroke="#4a2a7c" stroke-width="1.00" stroke-opacity="0.85"/>
<path d="M153.2,226.4 C109.3,202.7 102.0,207.3 104.6,257.3" fill="none" stroke="#4a2a7c" stroke-width="1.00" stroke-opacity="0.85"/>
<path d="M148.2,233.3 C107.4,204.6 102.1,208.0 112.9,255.7" fill="none" stroke="#4a2a7c" stroke-width="1.00" stroke-opacity="0.85"/>
<path d="M142.4,239.5 C109.3,206.0 112.0,201.8 160.4,211.1" fill="none" stroke="#4a2a7c" stroke-width="1.00" stroke-opacity="0.85"/>
<path d="M142.4,239.5 C106.8,205.3 109.5,201.1 160.4,211.1" fill="none" stroke="#4a2a7c" stroke-width="1.00" stroke-opacity="0.85"/>
<path d="M142.4,239.5 C107.0,206.0 101.4,208.6 104.6,257.3" fill="none" stroke="#4a2a7c" stroke-width="1.00" stroke-opacity="0.85"/>
<path d="M135.8,244.9 C107.0,207.5 110.7,202.5 160.4,211.1" fill="none" stroke="#4a2a7c" stroke-width="1.00" stroke-opacity="0.85"/>
<path d="M128.7,249.4 C107.1,205.4 110.0,203.0 148.2,233.3" fill="none" stroke="#4a2a7c" stroke-width="1.00" stroke-opacity="0.85"/>
<path d="M128.7,249.4 C105.5,208.1 101.8,209.3 104.6,257.3" fill="none" stroke="#4a2a7c" stroke-width="1.00" stroke-opacity="0.85"/>
<path d="M121.0,253.1 C104.8,207.1 111.2,198.3 163.6,194.4" fill="none" stroke="#4a2a7c" stroke-width="1.00" stroke-opacity="0.85"/>
<path d="M121.0,253.1 C104.7,208.2 107.9,206.2 142.4,239.5" fill="none" stroke="#4a2a7c" stroke-width="1.00" stroke-opacity="0.85"/>
<path d="M112.9,255.7 C105.2,207.8 112.8,198.6 163.6,194.4" fill="none" stroke="#4a2a7c" stroke-width="1.00" stroke-opacity="0.85"/>
<path d="M112.9,255.7 C105.3,208.0 111.4,203.6 153.2,226.4" fill="none" stroke="#4a2a7c" stroke-width="1.00" stroke-opacity="0.85"/>
<path d="M112.9,255.7 C102.4,208.7 110.0,199.6 163.6,194.4" fill="none" stroke="#4a2a7c" stroke-width="1.00" stroke-opacity="0.85"/>
<path d="M104.6,257.3 C102.2,206.4 107.9,203.7 142.4,239.5" fill="none" stroke="#4a2a7c" stroke-width="1.00" stroke-opacity="0.85"/>
<path d="M104.6,257.3 C104.1,206.3 107.7,205.1 128.7,249.4" fill="none" stroke="#4a2a7c" stroke-width="1.00" stroke-opacity="0.85"/>
<path d="M104.6,257.3 C102.7,207.8 111.4,199.7 162.5,202.9" fill="none" stroke="#4a2a7c" stroke-width="1.00" stroke-opacity="0.85"/>
<path d="M104.6,257.3 C103.8,207.5 112.5,199.4 162.5,202.9" fill="none" stroke="#4a2a7c" stroke-width="1.00" stroke-opacity="0.85"/>
<path d="M96.1,257.8 C100.2,207.2 106.2,205.3 135.8,244.9" fill="none" stroke="#922f72" stroke-width="1.00" stroke-opacity="0.85"/>
<path d="M160.4,211.1 C109.8,201.2 102.7,207.9 112.9,255.7" fill="none" stroke="#922f72" stroke-width="1.00" stroke-opacity="0.85"/>
<path d="M153.2,226.4 C109.3,204.1 104.4,208.1 121.0,253.1" fill="none" stroke="#922f72" stroke-width="1.00" stroke-opacity="0.85"/>
<path d="M148.2,233.3 C108.1,203.8 110.0,200.5 160.4,211.1" fill="none" stroke="#922f72" stroke-width="1.00" stroke-opacity="0.85"/>
<path d="M148.2,233.3 C108.2,206.0 110.3,201.4 162.5,202.9" fill="none" stroke="#922f72" stroke-width="1.00" stroke-opacity="0.85"/>
<path d="M135.8,244.9 C108.3,207.2 112.5,199.7 163.6,194.4" fill="none" stroke="#922f72" stroke-width="1.00" stroke-opacity="0.85"/>
<path d="M135.8,244.9 C107.6,205.7 111.7,198.1 163.6,194.4" fill="none" stroke="#922f72" stroke-width="1.00" stroke-opacity="0.85"/>
<path d="M135.8,244.9 C105.9,207.2 102.5,208.8 112.9,255.7" fill="none" stroke="#922f72" stroke-width="1.00" stroke-opacity="0.85"/>
<path d="M128.7,249.4 C106.1,205.2 110.3,200.6 157.3,219.0" fill="none" stroke="#922f72" stroke-width="1.00" stroke-opacity="0.85"/>
<path d="M121.0,253.1 C103.8,205.9 110.0,198.4 162.5,202.9" fill="none" stroke="#922f72" stroke-width="1.00" stroke-opacity="0.85"/>
<path d="M121.0,253.1 C105.7,208.6 112.1,199.8 163.6,194.4" fill="none" stroke="#922f72" stroke-width="1.00" stroke-opacity="0.85"/>
<path d="M112.9,255.7 C102.7,208.7 107.1,206.3 142.4,239.5" fill="none" stroke="#922f72" stroke-width="1.00" stroke-opacity="0.85"/>
<path d="M96.1,257.8 C100.6,208.6 106.6,206.7 135.8,244.9" fill="none" stroke="#b93b5c" stroke-width="1.00" stroke-opacity="0.85"/>
<path d="M79.3,255.7 C99.9,208.1 103.7,208.3 104.6,257.3" fill="none" stroke="#b93b5c" stroke-width="1.00" stroke-opacity="0.85"/>
<path d="M142.4,239.5 C109.2,204.8 112.3,198.1 163.6,194.4" fill="none" stroke="#b93b5c" stroke-width="1.00" stroke-opacity="0.85"/>
<path d="M135.8,244.9 C105.5,206.1 109.7,198.5 163.6,194.4" fill="none" stroke="#b93b5c" stroke-width="1.00" stroke-opacity="0.85"/>
<path d="M112.9,255.7 C104.0,206.6 111.1,199.9 160.4,211.1" fill="none" stroke="#b93b5c" stroke-width="1.00" stroke-opacity="0.85"/>
<path d="M96.1,257.8 C100.8,207.4 105.7,206.1 128.7,249.4" fill="none" stroke="#e3722f" stroke-width="1.30" stroke-opacity="0.95"/>
<path d="M112.9,255.7 C102.1,207.0 106.5,204.6 142.4,239.5" fill="none" stroke="#e3722f" stroke-width="1.30" stroke-opacity="0.95"/>
<path d="M104.6,257.3 C102.1,207.8 105.7,206.7 128.7,249.4" fill="none" stroke="#e3722f" stroke-width="1.30" stroke-opacity="0.95"/>
<path d="M112.9,255.7 C104.4,207.3 107.9,205.7 135.8,244.9" fill="none" stroke="#e3722f" stroke-width="1.30" stroke-opacity="0.95"/>
<path d="M104.6,257.3 C104.1,209.0 108.8,207.1 135.8,244.9" fill="none" stroke="#f1a33a" stroke-width="1.30" stroke-opacity="0.95"/>
<path d="M121.0,253.1 C106.4,207.9 110.5,205.0 148.2,233.3" fill="none" stroke="#f1a33a" stroke-width="1.30" stroke-opacity="0.95"/>
<path d="M96.1,257.8 C101.8,208.1 107.7,206.2 135.8,244.9" fill="none" stroke="#f1a33a" stroke-width="1.30" stroke-opacity="0.95"/>
<circle cx="96.10" cy="118.20" r="4.75" fill="#fff" stroke="#1e1e1e" stroke-width="0.9"/>
<text x="96.10" y="120.50" font-size="6.8" text-anchor="middle" fill="#111" stroke="#111" stroke-width="0.12">35</text>
<circle cx="105.12" cy="118.77" r="4.75" fill="#fff" stroke="#1e1e1e" stroke-width="0.9"/>
<text x="105.12" y="121.07" font-size="6.8" text-anchor="middle" fill="#111" stroke="#111" stroke-width="0.12">19</text>
<circle cx="114.01" cy="120.46" r="4.75" fill="#fff" stroke="#1e1e1e" stroke-width="0.9"/>
<text x="114.01" y="122.76" font-size="6.8" text-anchor="middle" fill="#111" stroke="#111" stroke-width="0.12">42</text>
<circle cx="122.60" cy="123.26" r="4.75" fill="#fff" stroke="#1e1e1e" stroke-width="0.9"/>
<text x="122.60" y="125.56" font-size="6.8" text-anchor="middle" fill="#111" stroke="#111" stroke-width="0.12">27</text>
<circle cx="130.79" cy="127.11" r="4.75" fill="#fff" stroke="#1e1e1e" stroke-width="0.9"/>
<text x="130.79" y="129.41" font-size="6.8" text-anchor="middle" fill="#111" stroke="#111" stroke-width="0.12">6</text>
<circle cx="138.42" cy="131.95" r="4.6" fill="#fff" stroke="#000" stroke-width="1.6"/>
<text x="138.42" y="134.25" font-size="6.6" font-weight="bold" text-anchor="middle" fill="#000">14</text>
<circle cx="145.39" cy="137.71" r="4.75" fill="#fff" stroke="#1e1e1e" stroke-width="0.9"/>
<text x="145.39" y="140.01" font-size="6.8" text-anchor="middle" fill="#111" stroke="#111" stroke-width="0.12">45</text>
<circle cx="151.58" cy="144.31" r="4.75" fill="#fff" stroke="#1e1e1e" stroke-width="0.9"/>
<text x="151.58" y="146.61" font-size="6.8" text-anchor="middle" fill="#111" stroke="#111" stroke-width="0.12">26</text>
<circle cx="156.89" cy="151.62" r="4.75" fill="#fff" stroke="#1e1e1e" stroke-width="0.9"/>
<text x="156.89" y="153.92" font-size="6.8" text-anchor="middle" fill="#111" stroke="#111" stroke-width="0.12">4</text>
<circle cx="161.25" cy="159.54" r="4.6" fill="#fff" stroke="#000" stroke-width="1.6"/>
<text x="161.25" y="161.84" font-size="6.6" font-weight="bold" text-anchor="middle" fill="#000">3</text>
<circle cx="164.58" cy="167.95" r="4.6" fill="#fff" stroke="#000" stroke-width="1.6"/>
<text x="164.58" y="170.25" font-size="6.6" font-weight="bold" text-anchor="middle" fill="#000">46</text>
<circle cx="166.82" cy="176.71" r="4.75" fill="#fff" stroke="#1e1e1e" stroke-width="0.9"/>
<text x="166.82" y="179.01" font-size="6.8" text-anchor="middle" fill="#111" stroke="#111" stroke-width="0.12">41</text>
<circle cx="167.96" cy="185.68" r="4.75" fill="#fff" stroke="#1e1e1e" stroke-width="0.9"/>
<text x="167.96" y="187.98" font-size="6.8" text-anchor="middle" fill="#111" stroke="#111" stroke-width="0.12">28</text>
<circle cx="167.96" cy="194.72" r="4.75" fill="#fff" stroke="#1e1e1e" stroke-width="0.9"/>
<text x="167.96" y="197.02" font-size="6.8" text-anchor="middle" fill="#111" stroke="#111" stroke-width="0.12">34</text>
<circle cx="166.82" cy="203.69" r="4.75" fill="#fff" stroke="#1e1e1e" stroke-width="0.9"/>
<text x="166.82" y="205.99" font-size="6.8" text-anchor="middle" fill="#111" stroke="#111" stroke-width="0.12">33</text>
<circle cx="164.58" cy="212.45" r="4.75" fill="#fff" stroke="#1e1e1e" stroke-width="0.9"/>
<text x="164.58" y="214.75" font-size="6.8" text-anchor="middle" fill="#111" stroke="#111" stroke-width="0.12">40</text>
<circle cx="161.25" cy="220.86" r="4.6" fill="#fff" stroke="#000" stroke-width="1.6"/>
<text x="161.25" y="223.16" font-size="6.6" font-weight="bold" text-anchor="middle" fill="#000">43</text>
<circle cx="156.89" cy="228.78" r="4.75" fill="#fff" stroke="#1e1e1e" stroke-width="0.9"/>
<text x="156.89" y="231.08" font-size="6.8" text-anchor="middle" fill="#111" stroke="#111" stroke-width="0.12">0</text>
<circle cx="151.58" cy="236.09" r="4.75" fill="#fff" stroke="#1e1e1e" stroke-width="0.9"/>
<text x="151.58" y="238.39" font-size="6.8" text-anchor="middle" fill="#111" stroke="#111" stroke-width="0.12">5</text>
<circle cx="145.39" cy="242.69" r="4.75" fill="#fff" stroke="#1e1e1e" stroke-width="0.9"/>
<text x="145.39" y="244.99" font-size="6.8" text-anchor="middle" fill="#111" stroke="#111" stroke-width="0.12">30</text>
<circle cx="138.42" cy="248.45" r="4.75" fill="#fff" stroke="#1e1e1e" stroke-width="0.9"/>
<text x="138.42" y="250.75" font-size="6.8" text-anchor="middle" fill="#111" stroke="#111" stroke-width="0.12">2</text>
<circle cx="130.79" cy="253.29" r="4.75" fill="#fff" stroke="#1e1e1e" stroke-width="0.9"/>
<text x="130.79" y="255.59" font-size="6.8" text-anchor="middle" fill="#111" stroke="#111" stroke-width="0.12">47</text>
<circle cx="122.60" cy="257.14" r="4.75" fill="#fff" stroke="#1e1e1e" stroke-width="0.9"/>
<text x="122.60" y="259.44" font-size="6.8" text-anchor="middle" fill="#111" stroke="#111" stroke-width="0.12">32</text>
<circle cx="114.01" cy="259.94" r="4.75" fill="#fff" stroke="#1e1e1e" stroke-width="0.9"/>
<text x="114.01" y="262.24" font-size="6.8" text-anchor="middle" fill="#111" stroke="#111" stroke-width="0.12">17</text>
<circle cx="105.12" cy="261.63" r="4.75" fill="#fff" stroke="#1e1e1e" stroke-width="0.9"/>
<text x="105.12" y="263.93" font-size="6.8" text-anchor="middle" fill="#111" stroke="#111" stroke-width="0.12">36</text>
<circle cx="96.10" cy="262.20" r="4.75" fill="#fff" stroke="#1e1e1e" stroke-width="0.9"/>
<text x="96.10" y="264.50" font-size="6.8" text-anchor="middle" fill="#111" stroke="#111" stroke-width="0.12">8</text>
<circle cx="87.08" cy="261.63" r="4.75" fill="#fff" stroke="#1e1e1e" stroke-width="0.9"/>
<text x="87.08" y="263.93" font-size="6.8" text-anchor="middle" fill="#111" stroke="#111" stroke-width="0.12">18</text>
<circle cx="78.19" cy="259.94" r="4.75" fill="#fff" stroke="#1e1e1e" stroke-width="0.9"/>
<text x="78.19" y="262.24" font-size="6.8" text-anchor="middle" fill="#111" stroke="#111" stroke-width="0.12">13</text>
<circle cx="69.60" cy="257.14" r="4.75" fill="#fff" stroke="#1e1e1e" stroke-width="0.9"/>
<text x="69.60" y="259.44" font-size="6.8" text-anchor="middle" fill="#111" stroke="#111" stroke-width="0.12">21</text>
<circle cx="61.41" cy="253.29" r="4.6" fill="#fff" stroke="#000" stroke-width="1.6"/>
<text x="61.41" y="255.59" font-size="6.6" font-weight="bold" text-anchor="middle" fill="#000">10</text>
<circle cx="53.78" cy="248.45" r="4.6" fill="#fff" stroke="#000" stroke-width="1.6"/>
<text x="53.78" y="250.75" font-size="6.6" font-weight="bold" text-anchor="middle" fill="#000">15</text>
<circle cx="46.81" cy="242.69" r="4.75" fill="#fff" stroke="#1e1e1e" stroke-width="0.9"/>
<text x="46.81" y="244.99" font-size="6.8" text-anchor="middle" fill="#111" stroke="#111" stroke-width="0.12">38</text>
<circle cx="40.62" cy="236.09" r="4.75" fill="#fff" stroke="#1e1e1e" stroke-width="0.9"/>
<text x="40.62" y="238.39" font-size="6.8" text-anchor="middle" fill="#111" stroke="#111" stroke-width="0.12">24</text>
<circle cx="35.31" cy="228.78" r="4.75" fill="#fff" stroke="#1e1e1e" stroke-width="0.9"/>
<text x="35.31" y="231.08" font-size="6.8" text-anchor="middle" fill="#111" stroke="#111" stroke-width="0.12">23</text>
<circle cx="30.95" cy="220.86" r="4.75" fill="#fff" stroke="#1e1e1e" stroke-width="0.9"/>
<text x="30.95" y="223.16" font-size="6.8" text-anchor="middle" fill="#111" stroke="#111" stroke-width="0.12">20</text>
<circle cx="27.62" cy="212.45" r="4.75" fill="#fff" stroke="#1e1e1e" stroke-width="0.9"/>
<text x="27.62" y="214.75" font-size="6.8" text-anchor="middle" fill="#111" stroke="#111" stroke-width="0.12">44</text>
<circle cx="25.38" cy="203.69" r="4.6" fill="#fff" stroke="#000" stroke-width="1.6"/>
<text x="25.38" y="205.99" font-size="6.6" font-weight="bold" text-anchor="middle" fill="#000">31</text>
<circle cx="24.24" cy="194.72" r="4.75" fill="#fff" stroke="#1e1e1e" stroke-width="0.9"/>
<text x="24.24" y="197.02" font-size="6.8" text-anchor="middle" fill="#111" stroke="#111" stroke-width="0.12">12</text>
<circle cx="24.24" cy="185.68" r="4.75" fill="#fff" stroke="#1e1e1e" stroke-width="0.9"/>
<text x="24.24" y="187.98" font-size="6.8" text-anchor="middle" fill="#111" stroke="#111" stroke-width="0.12">39</text>
<circle cx="25.38" cy="176.71" r="4.75" fill="#fff" stroke="#1e1e1e" stroke-width="0.9"/>
<text x="25.38" y="179.01" font-size="6.8" text-anchor="middle" fill="#111" stroke="#111" stroke-width="0.12">48</text>
<circle cx="27.62" cy="167.95" r="4.75" fill="#fff" stroke="#1e1e1e" stroke-width="0.9"/>
<text x="27.62" y="170.25" font-size="6.8" text-anchor="middle" fill="#111" stroke="#111" stroke-width="0.12">29</text>
<circle cx="30.95" cy="159.54" r="4.75" fill="#fff" stroke="#1e1e1e" stroke-width="0.9"/>
<text x="30.95" y="161.84" font-size="6.8" text-anchor="middle" fill="#111" stroke="#111" stroke-width="0.12">22</text>
<circle cx="35.31" cy="151.62" r="4.75" fill="#fff" stroke="#1e1e1e" stroke-width="0.9"/>
<text x="35.31" y="153.92" font-size="6.8" text-anchor="middle" fill="#111" stroke="#111" stroke-width="0.12">7</text>
<circle cx="40.62" cy="144.31" r="4.75" fill="#fff" stroke="#1e1e1e" stroke-width="0.9"/>
<text x="40.62" y="146.61" font-size="6.8" text-anchor="middle" fill="#111" stroke="#111" stroke-width="0.12">11</text>
<circle cx="46.81" cy="137.71" r="4.75" fill="#fff" stroke="#1e1e1e" stroke-width="0.9"/>
<text x="46.81" y="140.01" font-size="6.8" text-anchor="middle" fill="#111" stroke="#111" stroke-width="0.12">37</text>
<circle cx="53.78" cy="131.95" r="4.75" fill="#fff" stroke="#1e1e1e" stroke-width="0.9"/>
<text x="53.78" y="134.25" font-size="6.8" text-anchor="middle" fill="#111" stroke="#111" stroke-width="0.12">16</text>
<circle cx="61.41" cy="127.11" r="4.6" fill="#fff" stroke="#000" stroke-width="1.6"/>
<text x="61.41" y="129.41" font-size="6.6" font-weight="bold" text-anchor="middle" fill="#000">25</text>
<circle cx="69.60" cy="123.26" r="4.6" fill="#fff" stroke="#000" stroke-width="1.6"/>
<text x="69.60" y="125.56" font-size="6.6" font-weight="bold" text-anchor="middle" fill="#000">1</text>
<circle cx="78.19" cy="120.46" r="4.75" fill="#fff" stroke="#1e1e1e" stroke-width="0.9"/>
<text x="78.19" y="122.76" font-size="6.8" text-anchor="middle" fill="#111" stroke="#111" stroke-width="0.12">49</text>
<circle cx="87.08" cy="118.77" r="4.75" fill="#fff" stroke="#1e1e1e" stroke-width="0.9"/>
<text x="87.08" y="121.07" font-size="6.8" text-anchor="middle" fill="#111" stroke="#111" stroke-width="0.12">9</text>
<circle cx="199.32" cy="175.21" r="5.4" fill="none" stroke="#c9c9c9" stroke-width="0.9" stroke-opacity="0.97"/>
<circle cx="201.82" cy="165.48" r="5.4" fill="none" stroke="#c9c9c9" stroke-width="0.9" stroke-opacity="0.98"/>
<circle cx="205.51" cy="156.14" r="5.4" fill="none" stroke="#c9c9c9" stroke-width="0.9" stroke-opacity="0.95"/>
<circle cx="210.35" cy="147.33" r="5.4" fill="none" stroke="#c9c9c9" stroke-width="0.9" stroke-opacity="0.59"/>
<circle cx="216.26" cy="139.21" r="5.4" fill="none" stroke="#c99aaa" stroke-width="0.9" stroke-opacity="0.90"/>
<circle cx="223.14" cy="131.88" r="5.4" fill="none" stroke="#c9c9c9" stroke-width="0.9" stroke-opacity="0.82"/>
<circle cx="230.88" cy="125.48" r="5.4" fill="none" stroke="#d7ae85" stroke-width="0.9" stroke-opacity="0.90"/>
<circle cx="239.36" cy="120.10" r="5.4" fill="none" stroke="#d7ae85" stroke-width="0.9" stroke-opacity="0.90"/>
<circle cx="248.45" cy="115.82" r="5.4" fill="none" stroke="#d7ae85" stroke-width="0.9" stroke-opacity="0.90"/>
<circle cx="258.00" cy="112.71" r="5.4" fill="none" stroke="#c99aaa" stroke-width="0.9" stroke-opacity="0.90"/>
<circle cx="267.87" cy="110.83" r="5.4" fill="none" stroke="#c9c9c9" stroke-width="0.9" stroke-opacity="0.74"/>
<circle cx="287.93" cy="110.83" r="5.4" fill="none" stroke="#c99aaa" stroke-width="0.9" stroke-opacity="0.90"/>
<circle cx="307.35" cy="115.82" r="5.4" fill="none" stroke="#c9c9c9" stroke-width="0.9" stroke-opacity="0.79"/>
<circle cx="353.98" cy="214.92" r="5.4" fill="none" stroke="#c9c9c9" stroke-width="0.9" stroke-opacity="0.61"/>
<circle cx="339.54" cy="241.19" r="5.4" fill="none" stroke="#c99aaa" stroke-width="0.9" stroke-opacity="0.90"/>
<circle cx="332.66" cy="248.52" r="5.4" fill="none" stroke="#c9c9c9" stroke-width="0.9" stroke-opacity="0.64"/>
<circle cx="324.92" cy="254.92" r="5.4" fill="none" stroke="#c9c9c9" stroke-width="0.9" stroke-opacity="0.75"/>
<circle cx="316.44" cy="260.30" r="5.4" fill="none" stroke="#d7ae85" stroke-width="0.9" stroke-opacity="0.90"/>
<circle cx="307.35" cy="264.58" r="5.4" fill="none" stroke="#c99aaa" stroke-width="0.9" stroke-opacity="0.90"/>
<circle cx="297.80" cy="267.69" r="5.4" fill="none" stroke="#c9c9c9" stroke-width="0.9" stroke-opacity="0.65"/>
<circle cx="287.93" cy="269.57" r="5.4" fill="none" stroke="#c99aaa" stroke-width="0.9" stroke-opacity="0.90"/>
<circle cx="277.90" cy="270.20" r="5.4" fill="none" stroke="#c99aaa" stroke-width="0.9" stroke-opacity="0.90"/>
<circle cx="267.87" cy="269.57" r="5.4" fill="none" stroke="#c9c9c9" stroke-width="0.9" stroke-opacity="0.75"/>
<circle cx="239.36" cy="260.30" r="5.4" fill="none" stroke="#c99aaa" stroke-width="0.9" stroke-opacity="0.90"/>
<circle cx="230.88" cy="254.92" r="5.4" fill="none" stroke="#d7ae85" stroke-width="0.9" stroke-opacity="0.90"/>
<circle cx="223.14" cy="248.52" r="5.4" fill="none" stroke="#c9c9c9" stroke-width="0.9" stroke-opacity="0.56"/>
<path d="M277.9,122.6 C272.9,158.1 301.7,204.3 225.8,233.3 M294.7,124.7 C285.5,157.3 294.2,212.8 261.1,255.7 M210.4,194.4 C268.0,169.4 303.7,210.1 277.9,257.8 M216.7,161.4 C265.1,158.1 301.8,218.1 317.6,244.9 M210.4,186.0 C273.1,166.6 283.3,208.3 213.6,211.1 M330.0,147.1 C281.3,162.1 283.0,207.9 317.6,244.9 M220.8,154.0 C270.6,167.5 285.7,216.6 277.9,257.8 M269.4,123.1 C285.4,168.0 284.2,207.5 344.3,202.9 M339.1,161.4 C287.0,156.3 299.2,207.0 339.1,219.0 M220.8,154.0 C264.1,157.4 293.9,204.4 294.7,255.7 M210.4,186.0 C275.8,169.1 291.0,209.8 231.6,239.5 M324.2,140.9 C280.7,158.2 303.5,214.3 342.2,211.1 M210.4,194.4 C270.4,165.8 301.3,214.6 344.3,202.9 M339.1,161.4 C287.9,157.9 297.8,217.5 231.6,239.5 M225.8,147.1 C278.6,156.8 289.7,213.6 330.0,233.3 M310.5,131.0 C282.5,157.4 289.2,216.3 231.6,239.5 M310.5,131.0 C274.7,161.8 304.6,212.2 286.4,257.3 M211.5,202.9 C283.1,160.8 291.3,207.2 277.9,257.8 M277.9,122.6 C271.7,157.4 296.0,205.6 310.5,249.4 M344.3,177.5 C264.5,167.1 300.3,211.2 344.3,202.9 M335.0,154.0 C277.5,157.1 296.4,205.5 317.6,244.9 M342.2,169.3 C276.1,169.6 294.4,206.1 277.9,257.8 " fill="none" stroke="#8d8d8d" stroke-width="0.45" stroke-opacity="0.45"/>
<path d="M210.4,194.4 C264.7,184.2 281.6,170.3 294.7,124.7" fill="none" stroke="#6a5590" stroke-width="0.60" stroke-opacity="0.6"/>
<path d="M210.4,186.0 C261.8,182.4 286.7,176.0 335.0,154.0" fill="none" stroke="#6a5590" stroke-width="0.60" stroke-opacity="0.6"/>
<path d="M211.5,177.5 C263.9,180.7 286.4,173.4 324.2,140.9" fill="none" stroke="#6a5590" stroke-width="0.60" stroke-opacity="0.6"/>
<path d="M238.2,135.5 C267.5,172.1 284.7,173.2 324.2,140.9" fill="none" stroke="#8c7f98" stroke-width="0.50" stroke-opacity="0.45"/>
<path d="M210.4,186.0 C263.6,182.8 286.4,173.8 324.2,140.9" fill="none" stroke="#8c7f98" stroke-width="0.50" stroke-opacity="0.45"/>
<path d="M211.5,177.5 C264.6,180.7 287.2,173.4 324.2,140.9" fill="none" stroke="#8c7f98" stroke-width="0.50" stroke-opacity="0.45"/>
<path d="M225.8,147.1 C264.7,176.8 285.5,176.8 330.0,147.1" fill="none" stroke="#8c7f98" stroke-width="0.50" stroke-opacity="0.45"/>
<path d="M211.5,177.5 C264.0,180.5 287.7,174.4 330.0,147.1" fill="none" stroke="#8c7f98" stroke-width="0.50" stroke-opacity="0.45"/>
<path d="M225.8,147.1 C265.5,176.3 286.3,176.3 330.0,147.1" fill="none" stroke="#8c7f98" stroke-width="0.50" stroke-opacity="0.45"/>
<path d="M210.4,186.0 C264.7,183.8 289.6,177.4 335.0,154.0" fill="none" stroke="#8c7f98" stroke-width="0.50" stroke-opacity="0.45"/>
<path d="M238.2,135.5 C268.5,174.9 287.9,178.6 335.0,154.0" fill="none" stroke="#8c7f98" stroke-width="0.50" stroke-opacity="0.45"/>
<path d="M238.2,135.5 C268.7,173.1 288.0,176.8 335.0,154.0" fill="none" stroke="#8c7f98" stroke-width="0.50" stroke-opacity="0.45"/>
<path d="M253.0,127.3 C272.9,172.5 290.1,179.3 339.1,161.4" fill="none" stroke="#8c7f98" stroke-width="0.50" stroke-opacity="0.45"/>
<path d="M213.6,169.3 C264.4,179.2 289.5,177.7 339.1,161.4" fill="none" stroke="#8c7f98" stroke-width="0.50" stroke-opacity="0.45"/>
<path d="M231.6,140.9 C266.0,173.7 287.5,177.8 339.1,161.4" fill="none" stroke="#8c7f98" stroke-width="0.50" stroke-opacity="0.45"/>
<path d="M238.2,135.5 C268.3,175.2 289.1,182.0 342.2,169.3" fill="none" stroke="#8c7f98" stroke-width="0.50" stroke-opacity="0.45"/>
<path d="M213.6,169.3 C263.5,178.8 289.2,178.8 342.2,169.3" fill="none" stroke="#8c7f98" stroke-width="0.50" stroke-opacity="0.45"/>
<path d="M211.5,177.5 C264.9,181.4 291.1,179.8 342.2,169.3" fill="none" stroke="#8c7f98" stroke-width="0.50" stroke-opacity="0.45"/>
<path d="M225.8,147.1 C267.4,174.5 291.1,180.6 344.3,177.5" fill="none" stroke="#8c7f98" stroke-width="0.50" stroke-opacity="0.45"/>
<path d="M261.1,124.7 C273.1,171.2 289.8,181.8 344.3,177.5" fill="none" stroke="#8c7f98" stroke-width="0.50" stroke-opacity="0.45"/>
<path d="M216.7,161.4 C263.9,179.0 289.4,182.3 344.3,177.5" fill="none" stroke="#8c7f98" stroke-width="0.50" stroke-opacity="0.45"/>
<path d="M238.2,135.5 C270.0,174.9 291.4,185.0 345.4,186.0" fill="none" stroke="#8c7f98" stroke-width="0.50" stroke-opacity="0.45"/>
<path d="M213.6,169.3 C263.6,179.1 290.0,182.4 345.4,186.0" fill="none" stroke="#8c7f98" stroke-width="0.50" stroke-opacity="0.45"/>
<path d="M216.7,161.4 C263.8,178.7 289.6,183.6 345.4,186.0" fill="none" stroke="#8c7f98" stroke-width="0.50" stroke-opacity="0.45"/>
<path d="M211.5,202.9 C264.8,187.0 286.0,173.5 317.6,135.5" fill="none" stroke="#4a2a7c" stroke-width="1.00" stroke-opacity="0.85"/>
<path d="M210.4,194.4 C262.8,184.9 281.3,171.5 302.8,127.3" fill="none" stroke="#4a2a7c" stroke-width="1.00" stroke-opacity="0.85"/>
<path d="M210.4,186.0 C261.8,182.4 277.0,169.9 286.4,123.1" fill="none" stroke="#4a2a7c" stroke-width="1.00" stroke-opacity="0.85"/>
<path d="M211.5,177.5 C262.8,180.6 284.1,172.1 317.6,135.5" fill="none" stroke="#4a2a7c" stroke-width="1.00" stroke-opacity="0.85"/>
<path d="M213.6,169.3 C262.9,180.0 277.5,170.8 286.4,123.1" fill="none" stroke="#4a2a7c" stroke-width="1.00" stroke-opacity="0.85"/>
<path d="M213.6,169.3 C265.1,181.8 279.7,172.6 286.4,123.1" fill="none" stroke="#4a2a7c" stroke-width="1.00" stroke-opacity="0.85"/>
<path d="M216.7,161.4 C263.1,180.4 280.4,173.5 302.8,127.3" fill="none" stroke="#4a2a7c" stroke-width="1.00" stroke-opacity="0.85"/>
<path d="M216.7,161.4 C265.9,179.2 284.7,173.1 310.5,131.0" fill="none" stroke="#4a2a7c" stroke-width="1.00" stroke-opacity="0.85"/>
<path d="M216.7,161.4 C265.9,179.4 281.5,172.0 294.7,124.7" fill="none" stroke="#4a2a7c" stroke-width="1.00" stroke-opacity="0.85"/>
<path d="M220.8,154.0 C264.9,178.0 281.3,172.7 302.8,127.3" fill="none" stroke="#4a2a7c" stroke-width="1.00" stroke-opacity="0.85"/>
<path d="M225.8,147.1 C267.2,174.6 279.3,169.8 286.4,123.1" fill="none" stroke="#4a2a7c" stroke-width="1.00" stroke-opacity="0.85"/>
<path d="M225.8,147.1 C266.8,175.7 275.5,170.9 269.4,123.1" fill="none" stroke="#4a2a7c" stroke-width="1.00" stroke-opacity="0.85"/>
<path d="M225.8,147.1 C265.4,176.7 280.8,172.8 302.8,127.3" fill="none" stroke="#4a2a7c" stroke-width="1.00" stroke-opacity="0.85"/>
<path d="M225.8,147.1 C267.1,176.9 285.5,174.6 317.6,135.5" fill="none" stroke="#4a2a7c" stroke-width="1.00" stroke-opacity="0.85"/>
<path d="M225.8,147.1 C266.3,175.9 276.7,171.0 277.9,122.6" fill="none" stroke="#4a2a7c" stroke-width="1.00" stroke-opacity="0.85"/>
<path d="M231.6,140.9 C265.9,176.1 283.1,175.0 317.6,135.5" fill="none" stroke="#4a2a7c" stroke-width="1.00" stroke-opacity="0.85"/>
<path d="M231.6,140.9 C266.5,173.9 275.8,170.2 277.9,122.6" fill="none" stroke="#4a2a7c" stroke-width="1.00" stroke-opacity="0.85"/>
<path d="M231.6,140.9 C269.0,174.2 276.6,170.6 269.4,123.1" fill="none" stroke="#4a2a7c" stroke-width="1.00" stroke-opacity="0.85"/>
<path d="M238.2,135.5 C267.4,173.1 280.4,171.5 302.8,127.3" fill="none" stroke="#4a2a7c" stroke-width="1.00" stroke-opacity="0.85"/>
<path d="M238.2,135.5 C269.4,173.7 282.3,172.1 302.8,127.3" fill="none" stroke="#4a2a7c" stroke-width="1.00" stroke-opacity="0.85"/>
<path d="M238.2,135.5 C269.7,173.4 284.1,172.4 310.5,131.0" fill="none" stroke="#4a2a7c" stroke-width="1.00" stroke-opacity="0.85"/>
<path d="M245.3,131.0 C271.3,172.4 284.3,172.4 310.5,131.0" fill="none" stroke="#4a2a7c" stroke-width="1.00" stroke-opacity="0.85"/>
<path d="M245.3,131.0 C270.5,173.9 282.0,173.2 302.8,127.3" fill="none" stroke="#4a2a7c" stroke-width="1.00" stroke-opacity="0.85"/>
<path d="M253.0,127.3 C271.8,171.6 276.7,170.6 277.9,122.6" fill="none" stroke="#4a2a7c" stroke-width="1.00" stroke-opacity="0.85"/>
<path d="M261.1,124.7 C274.8,170.6 283.1,171.1 302.8,127.3" fill="none" stroke="#4a2a7c" stroke-width="1.00" stroke-opacity="0.85"/>
<path d="M261.1,124.7 C274.7,171.7 279.7,171.4 286.4,123.1" fill="none" stroke="#4a2a7c" stroke-width="1.00" stroke-opacity="0.85"/>
<path d="M261.1,124.7 C274.3,172.4 281.0,172.4 294.7,124.7" fill="none" stroke="#4a2a7c" stroke-width="1.00" stroke-opacity="0.85"/>
<path d="M238.2,135.5 C267.7,172.6 274.0,170.1 269.4,123.1" fill="none" stroke="#4a2a7c" stroke-width="1.00" stroke-opacity="0.85"/>
<path d="M245.3,131.0 C269.6,174.0 276.1,172.3 277.9,122.6" fill="none" stroke="#4a2a7c" stroke-width="1.00" stroke-opacity="0.85"/>
<path d="M245.3,131.0 C269.5,172.8 277.7,171.3 286.4,123.1" fill="none" stroke="#4a2a7c" stroke-width="1.00" stroke-opacity="0.85"/>
<path d="M220.8,154.0 C266.1,177.1 280.9,171.3 294.7,124.7" fill="none" stroke="#4a2a7c" stroke-width="1.00" stroke-opacity="0.85"/>
<path d="M225.8,147.1 C267.8,174.7 283.2,170.7 302.8,127.3" fill="none" stroke="#4a2a7c" stroke-width="1.00" stroke-opacity="0.85"/>
<path d="M245.3,131.0 C269.5,172.8 281.0,172.1 302.8,127.3" fill="none" stroke="#4a2a7c" stroke-width="1.00" stroke-opacity="0.85"/>
<path d="M220.8,154.0 C265.2,178.9 283.1,174.3 310.5,131.0" fill="none" stroke="#4a2a7c" stroke-width="1.00" stroke-opacity="0.85"/>
<path d="M220.8,154.0 C264.3,176.2 282.2,171.6 310.5,131.0" fill="none" stroke="#4a2a7c" stroke-width="1.00" stroke-opacity="0.85"/>
<path d="M213.6,169.3 C264.4,181.2 280.6,172.3 294.7,124.7" fill="none" stroke="#922f72" stroke-width="1.00" stroke-opacity="0.85"/>
<path d="M216.7,161.4 C263.0,178.1 273.6,170.5 269.4,123.1" fill="none" stroke="#922f72" stroke-width="1.00" stroke-opacity="0.85"/>
<path d="M216.7,161.4 C264.0,179.1 282.7,173.0 310.5,131.0" fill="none" stroke="#922f72" stroke-width="1.00" stroke-opacity="0.85"/>
<path d="M220.8,154.0 C265.4,178.8 284.8,175.1 317.6,135.5" fill="none" stroke="#922f72" stroke-width="1.00" stroke-opacity="0.85"/>
<path d="M220.8,154.0 C266.1,177.2 279.2,171.0 286.4,123.1" fill="none" stroke="#922f72" stroke-width="1.00" stroke-opacity="0.85"/>
<path d="M220.8,154.0 C264.8,178.1 281.2,172.8 302.8,127.3" fill="none" stroke="#922f72" stroke-width="1.00" stroke-opacity="0.85"/>
<path d="M231.6,140.9 C266.3,174.5 278.9,171.3 294.7,124.7" fill="none" stroke="#922f72" stroke-width="1.00" stroke-opacity="0.85"/>
<path d="M231.6,140.9 C267.5,175.8 281.7,173.1 302.8,127.3" fill="none" stroke="#922f72" stroke-width="1.00" stroke-opacity="0.85"/>
<path d="M231.6,140.9 C267.7,173.2 281.9,170.5 302.8,127.3" fill="none" stroke="#922f72" stroke-width="1.00" stroke-opacity="0.85"/>
<path d="M238.2,135.5 C268.9,172.2 281.9,170.6 302.8,127.3" fill="none" stroke="#922f72" stroke-width="1.00" stroke-opacity="0.85"/>
<path d="M238.2,135.5 C269.6,173.2 282.6,171.6 302.8,127.3" fill="none" stroke="#922f72" stroke-width="1.00" stroke-opacity="0.85"/>
<path d="M238.2,135.5 C268.3,173.3 279.7,171.1 294.7,124.7" fill="none" stroke="#922f72" stroke-width="1.00" stroke-opacity="0.85"/>
<path d="M245.3,131.0 C271.1,174.0 279.4,172.4 286.4,123.1" fill="none" stroke="#922f72" stroke-width="1.00" stroke-opacity="0.85"/>
<path d="M245.3,131.0 C270.0,173.5 281.5,172.8 302.8,127.3" fill="none" stroke="#922f72" stroke-width="1.00" stroke-opacity="0.85"/>
<path d="M245.3,131.0 C269.2,171.5 282.2,171.5 310.5,131.0" fill="none" stroke="#922f72" stroke-width="1.00" stroke-opacity="0.85"/>
<path d="M253.0,127.3 C270.7,172.3 279.0,171.8 294.7,124.7" fill="none" stroke="#922f72" stroke-width="1.00" stroke-opacity="0.85"/>
<path d="M253.0,127.3 C273.0,171.3 276.3,170.4 269.4,123.1" fill="none" stroke="#922f72" stroke-width="1.00" stroke-opacity="0.85"/>
<path d="M245.3,131.0 C269.4,172.7 274.2,171.1 269.4,123.1" fill="none" stroke="#922f72" stroke-width="1.00" stroke-opacity="0.85"/>
<path d="M220.8,154.0 C265.4,178.2 276.8,171.9 277.9,122.6" fill="none" stroke="#922f72" stroke-width="1.00" stroke-opacity="0.85"/>
<path d="M253.0,127.3 C270.2,172.5 276.8,171.7 286.4,123.1" fill="none" stroke="#922f72" stroke-width="1.00" stroke-opacity="0.85"/>
<path d="M238.2,135.5 C268.2,172.8 279.5,170.6 294.7,124.7" fill="none" stroke="#922f72" stroke-width="1.00" stroke-opacity="0.85"/>
<path d="M245.3,131.0 C271.8,171.2 286.2,172.2 317.6,135.5" fill="none" stroke="#922f72" stroke-width="1.00" stroke-opacity="0.85"/>
<path d="M245.3,131.0 C270.9,173.0 285.3,173.9 317.6,135.5" fill="none" stroke="#922f72" stroke-width="1.00" stroke-opacity="0.85"/>
<path d="M213.6,169.3 C265.3,180.9 276.5,171.7 269.4,123.1" fill="none" stroke="#b93b5c" stroke-width="1.00" stroke-opacity="0.85"/>
<path d="M220.8,154.0 C264.8,178.0 282.7,173.4 310.5,131.0" fill="none" stroke="#b93b5c" stroke-width="1.00" stroke-opacity="0.85"/>
<path d="M225.8,147.1 C265.7,175.6 276.2,170.7 277.9,122.6" fill="none" stroke="#b93b5c" stroke-width="1.00" stroke-opacity="0.85"/>
<path d="M245.3,131.0 C268.8,173.8 273.6,172.2 269.4,123.1" fill="none" stroke="#b93b5c" stroke-width="1.00" stroke-opacity="0.85"/>
<path d="M253.0,127.3 C270.9,171.9 275.9,171.0 277.9,122.6" fill="none" stroke="#b93b5c" stroke-width="1.00" stroke-opacity="0.85"/>
<path d="M253.0,127.3 C272.3,171.4 275.6,170.6 269.4,123.1" fill="none" stroke="#b93b5c" stroke-width="1.00" stroke-opacity="0.85"/>
<path d="M253.0,127.3 C272.8,173.3 284.3,174.0 310.5,131.0" fill="none" stroke="#b93b5c" stroke-width="1.00" stroke-opacity="0.85"/>
<path d="M261.1,124.7 C274.0,171.9 275.7,171.6 269.4,123.1" fill="none" stroke="#b93b5c" stroke-width="1.00" stroke-opacity="0.85"/>
<path d="M261.1,124.7 C274.3,172.9 279.3,172.5 286.4,123.1" fill="none" stroke="#b93b5c" stroke-width="1.00" stroke-opacity="0.85"/>
<path d="M253.0,127.3 C271.3,172.9 278.0,172.0 286.4,123.1" fill="none" stroke="#e3722f" stroke-width="1.30" stroke-opacity="0.95"/>
<path d="M245.3,131.0 C271.4,172.8 281.3,171.5 294.7,124.7" fill="none" stroke="#e3722f" stroke-width="1.30" stroke-opacity="0.95"/>
<path d="M253.0,127.3 C272.8,170.5 277.8,169.6 277.9,122.6" fill="none" stroke="#e3722f" stroke-width="1.30" stroke-opacity="0.95"/>
<path d="M261.1,124.7 C274.9,170.4 280.0,170.0 286.4,123.1" fill="none" stroke="#f1a33a" stroke-width="1.30" stroke-opacity="0.95"/>
<path d="M245.3,249.4 C277.8,205.7 286.5,206.2 302.8,253.1" fill="none" stroke="#8c7f98" stroke-width="0.50" stroke-opacity="0.45"/>
<path d="M238.2,244.9 C276.4,205.3 289.3,204.5 324.2,239.5" fill="none" stroke="#8c7f98" stroke-width="0.50" stroke-opacity="0.45"/>
<path d="M231.6,239.5 C276.8,206.3 293.4,202.0 342.2,211.1" fill="none" stroke="#6a5590" stroke-width="0.60" stroke-opacity="0.6"/>
<path d="M225.8,233.3 C275.2,205.9 289.0,207.6 317.6,244.9" fill="none" stroke="#6a5590" stroke-width="0.60" stroke-opacity="0.6"/>
<path d="M220.8,226.4 C276.1,203.3 290.6,206.1 317.6,244.9" fill="none" stroke="#8c7f98" stroke-width="0.50" stroke-opacity="0.45"/>
<path d="M216.7,219.0 C275.1,200.7 292.8,201.8 335.0,226.4" fill="none" stroke="#8c7f98" stroke-width="0.50" stroke-opacity="0.45"/>
<path d="M213.6,211.1 C273.5,201.7 292.8,201.7 342.2,211.1" fill="none" stroke="#8c7f98" stroke-width="0.50" stroke-opacity="0.45"/>
<path d="M345.4,194.4 C294.2,197.1 285.4,206.5 286.4,257.3" fill="none" stroke="#6a5590" stroke-width="0.60" stroke-opacity="0.6"/>
<path d="M345.4,194.4 C294.0,199.6 292.4,204.4 335.0,226.4" fill="none" stroke="#6a5590" stroke-width="0.60" stroke-opacity="0.6"/>
<path d="M344.3,202.9 C292.4,200.8 290.3,205.3 330.0,233.3" fill="none" stroke="#6a5590" stroke-width="0.60" stroke-opacity="0.6"/>
<path d="M344.3,202.9 C291.8,201.3 283.1,209.4 286.4,257.3" fill="none" stroke="#6a5590" stroke-width="0.60" stroke-opacity="0.6"/>
<path d="M261.1,255.7 C280.9,209.3 293.0,202.7 342.2,211.1" fill="none" stroke="#4a2a7c" stroke-width="1.00" stroke-opacity="0.85"/>
<path d="M253.0,253.1 C279.2,207.0 292.1,201.9 339.1,219.0" fill="none" stroke="#4a2a7c" stroke-width="1.00" stroke-opacity="0.85"/>
<path d="M253.0,253.1 C279.3,206.0 292.6,199.7 342.2,211.1" fill="none" stroke="#4a2a7c" stroke-width="1.00" stroke-opacity="0.85"/>
<path d="M231.6,239.5 C276.1,205.9 290.0,205.9 324.2,239.5" fill="none" stroke="#4a2a7c" stroke-width="1.00" stroke-opacity="0.85"/>
<path d="M225.8,233.3 C275.0,204.6 287.7,207.0 310.5,249.4" fill="none" stroke="#4a2a7c" stroke-width="1.00" stroke-opacity="0.85"/>
<path d="M345.4,194.4 C294.3,198.7 293.4,202.4 339.1,219.0" fill="none" stroke="#4a2a7c" stroke-width="1.00" stroke-opacity="0.85"/>
<path d="M344.3,202.9 C292.2,199.9 287.1,206.9 310.5,249.4" fill="none" stroke="#4a2a7c" stroke-width="1.00" stroke-opacity="0.85"/>
<path d="M342.2,211.1 C291.9,202.2 292.4,199.7 345.4,194.4" fill="none" stroke="#4a2a7c" stroke-width="1.00" stroke-opacity="0.85"/>
<path d="M342.2,211.1 C292.1,201.8 286.2,208.1 302.8,253.1" fill="none" stroke="#4a2a7c" stroke-width="1.00" stroke-opacity="0.85"/>
<path d="M339.1,219.0 C293.5,203.7 285.6,209.5 286.4,257.3" fill="none" stroke="#4a2a7c" stroke-width="1.00" stroke-opacity="0.85"/>
<path d="M339.1,219.0 C293.9,201.6 294.8,197.9 345.4,194.4" fill="none" stroke="#4a2a7c" stroke-width="1.00" stroke-opacity="0.85"/>
<path d="M330.0,233.3 C289.7,205.0 283.2,208.6 286.4,257.3" fill="none" stroke="#4a2a7c" stroke-width="1.00" stroke-opacity="0.85"/>
<path d="M330.0,233.3 C290.2,205.0 283.6,208.6 286.4,257.3" fill="none" stroke="#4a2a7c" stroke-width="1.00" stroke-opacity="0.85"/>
<path d="M324.2,239.5 C289.4,203.8 287.3,205.3 310.5,249.4" fill="none" stroke="#4a2a7c" stroke-width="1.00" stroke-opacity="0.85"/>
<path d="M317.6,244.9 C289.9,207.5 293.9,201.2 344.3,202.9" fill="none" stroke="#4a2a7c" stroke-width="1.00" stroke-opacity="0.85"/>
<path d="M310.5,249.4 C287.1,205.4 289.2,203.9 324.2,239.5" fill="none" stroke="#4a2a7c" stroke-width="1.00" stroke-opacity="0.85"/>
<path d="M302.8,253.1 C286.9,206.6 293.3,197.8 345.4,194.4" fill="none" stroke="#4a2a7c" stroke-width="1.00" stroke-opacity="0.85"/>
<path d="M302.8,253.1 C285.2,206.9 290.1,202.9 335.0,226.4" fill="none" stroke="#4a2a7c" stroke-width="1.00" stroke-opacity="0.85"/>
<path d="M294.7,255.7 C285.4,207.0 293.0,197.8 345.4,194.4" fill="none" stroke="#4a2a7c" stroke-width="1.00" stroke-opacity="0.85"/>
<path d="M286.4,257.3 C283.4,207.2 291.7,200.3 342.2,211.1" fill="none" stroke="#4a2a7c" stroke-width="1.00" stroke-opacity="0.85"/>
<path d="M286.4,257.3 C283.9,207.9 291.1,203.3 335.0,226.4" fill="none" stroke="#4a2a7c" stroke-width="1.00" stroke-opacity="0.85"/>
<path d="M277.9,257.8 C284.7,206.8 289.5,205.6 310.5,249.4" fill="none" stroke="#922f72" stroke-width="1.00" stroke-opacity="0.85"/>
<path d="M269.4,257.3 C282.4,206.6 290.6,203.9 324.2,239.5" fill="none" stroke="#922f72" stroke-width="1.00" stroke-opacity="0.85"/>
<path d="M261.1,255.7 C279.0,206.3 285.3,205.9 302.8,253.1" fill="none" stroke="#922f72" stroke-width="1.00" stroke-opacity="0.85"/>
<path d="M344.3,202.9 C293.5,201.3 284.8,209.4 286.4,257.3" fill="none" stroke="#922f72" stroke-width="1.00" stroke-opacity="0.85"/>
<path d="M342.2,211.1 C291.0,202.3 288.3,206.6 324.2,239.5" fill="none" stroke="#922f72" stroke-width="1.00" stroke-opacity="0.85"/>
<path d="M339.1,219.0 C293.1,202.0 286.5,207.5 294.7,255.7" fill="none" stroke="#922f72" stroke-width="1.00" stroke-opacity="0.85"/>
<path d="M339.1,219.0 C291.1,203.3 286.8,207.9 310.5,249.4" fill="none" stroke="#922f72" stroke-width="1.00" stroke-opacity="0.85"/>
<path d="M335.0,226.4 C290.8,204.9 287.1,208.4 310.5,249.4" fill="none" stroke="#922f72" stroke-width="1.00" stroke-opacity="0.85"/>
<path d="M335.0,226.4 C290.3,204.5 287.7,207.3 317.6,244.9" fill="none" stroke="#922f72" stroke-width="1.00" stroke-opacity="0.85"/>
<path d="M330.0,233.3 C289.7,204.8 292.0,198.9 345.4,194.4" fill="none" stroke="#922f72" stroke-width="1.00" stroke-opacity="0.85"/>
<path d="M324.2,239.5 C289.1,204.2 290.7,202.3 335.0,226.4" fill="none" stroke="#922f72" stroke-width="1.00" stroke-opacity="0.85"/>
<path d="M324.2,239.5 C290.6,205.8 293.6,200.3 344.3,202.9" fill="none" stroke="#922f72" stroke-width="1.00" stroke-opacity="0.85"/>
<path d="M317.6,244.9 C287.9,206.3 283.2,208.1 286.4,257.3" fill="none" stroke="#922f72" stroke-width="1.00" stroke-opacity="0.85"/>
<path d="M317.6,244.9 C287.9,207.6 292.1,200.1 345.4,194.4" fill="none" stroke="#922f72" stroke-width="1.00" stroke-opacity="0.85"/>
<path d="M310.5,249.4 C288.4,206.6 290.5,205.1 324.2,239.5" fill="none" stroke="#922f72" stroke-width="1.00" stroke-opacity="0.85"/>
<path d="M294.7,255.7 C285.2,206.3 292.6,198.3 344.3,202.9" fill="none" stroke="#922f72" stroke-width="1.00" stroke-opacity="0.85"/>
<path d="M294.7,255.7 C284.7,206.5 287.1,205.6 310.5,249.4" fill="none" stroke="#922f72" stroke-width="1.00" stroke-opacity="0.85"/>
<path d="M277.9,257.8 C283.8,208.8 292.4,204.1 335.0,226.4" fill="none" stroke="#b93b5c" stroke-width="1.00" stroke-opacity="0.85"/>
<path d="M277.9,257.8 C283.4,207.6 292.5,201.8 339.1,219.0" fill="none" stroke="#b93b5c" stroke-width="1.00" stroke-opacity="0.85"/>
<path d="M277.9,257.8 C282.8,206.7 286.6,206.0 302.8,253.1" fill="none" stroke="#b93b5c" stroke-width="1.00" stroke-opacity="0.85"/>
<path d="M269.4,257.3 C280.4,208.3 287.6,206.4 317.6,244.9" fill="none" stroke="#b93b5c" stroke-width="1.00" stroke-opacity="0.85"/>
<path d="M269.4,257.3 C281.4,209.3 288.6,207.4 317.6,244.9" fill="none" stroke="#b93b5c" stroke-width="1.00" stroke-opacity="0.85"/>
<path d="M261.1,255.7 C279.9,206.7 292.1,200.0 342.2,211.1" fill="none" stroke="#b93b5c" stroke-width="1.00" stroke-opacity="0.85"/>
<path d="M342.2,211.1 C293.7,200.1 288.9,205.8 310.5,249.4" fill="none" stroke="#b93b5c" stroke-width="1.00" stroke-opacity="0.85"/>
<path d="M339.1,219.0 C292.3,202.6 284.4,208.3 286.4,257.3" fill="none" stroke="#b93b5c" stroke-width="1.00" stroke-opacity="0.85"/>
<path d="M335.0,226.4 C290.2,201.6 288.6,203.5 324.2,239.5" fill="none" stroke="#b93b5c" stroke-width="1.00" stroke-opacity="0.85"/>
<path d="M310.5,249.4 C288.1,208.3 292.4,203.7 339.1,219.0" fill="none" stroke="#b93b5c" stroke-width="1.00" stroke-opacity="0.85"/>
<path d="M310.5,249.4 C288.4,207.3 293.1,201.6 342.2,211.1" fill="none" stroke="#b93b5c" stroke-width="1.00" stroke-opacity="0.85"/>
<path d="M302.8,253.1 C286.9,207.8 293.1,200.3 344.3,202.9" fill="none" stroke="#b93b5c" stroke-width="1.00" stroke-opacity="0.85"/>
<path d="M294.7,255.7 C283.8,207.5 287.3,205.9 317.6,244.9" fill="none" stroke="#b93b5c" stroke-width="1.00" stroke-opacity="0.85"/>
<path d="M286.4,257.3 C284.9,207.4 288.5,206.2 310.5,249.4" fill="none" stroke="#b93b5c" stroke-width="1.00" stroke-opacity="0.85"/>
<path d="M277.9,257.8 C282.6,207.3 287.4,206.0 310.5,249.4" fill="none" stroke="#b93b5c" stroke-width="1.00" stroke-opacity="0.85"/>
<path d="M286.4,257.3 C283.3,208.3 288.0,206.4 317.6,244.9" fill="none" stroke="#b93b5c" stroke-width="1.00" stroke-opacity="0.85"/>
<path d="M302.8,253.1 C286.4,208.4 290.5,205.5 330.0,233.3" fill="none" stroke="#b93b5c" stroke-width="1.00" stroke-opacity="0.85"/>
<path d="M269.4,257.3 C280.1,208.1 286.3,207.0 310.5,249.4" fill="none" stroke="#b93b5c" stroke-width="1.00" stroke-opacity="0.85"/>
<path d="M294.7,255.7 C286.6,206.0 291.0,203.6 324.2,239.5" fill="none" stroke="#e3722f" stroke-width="1.30" stroke-opacity="0.95"/>
<path d="M238.2,244.9 C277.7,206.4 283.7,208.4 277.9,257.8" fill="none" stroke="#e3722f" stroke-width="1.30" stroke-opacity="0.95"/>
<circle cx="277.90" cy="118.20" r="4.75" fill="#fff" stroke="#1e1e1e" stroke-width="0.9"/>
<text x="277.90" y="120.50" font-size="6.8" text-anchor="middle" fill="#111" stroke="#111" stroke-width="0.12">35</text>
<circle cx="286.92" cy="118.77" r="4.75" fill="#fff" stroke="#1e1e1e" stroke-width="0.9"/>
<text x="286.92" y="121.07" font-size="6.8" text-anchor="middle" fill="#111" stroke="#111" stroke-width="0.12">19</text>
<circle cx="295.81" cy="120.46" r="4.75" fill="#fff" stroke="#1e1e1e" stroke-width="0.9"/>
<text x="295.81" y="122.76" font-size="6.8" text-anchor="middle" fill="#111" stroke="#111" stroke-width="0.12">42</text>
<circle cx="304.40" cy="123.26" r="4.75" fill="#fff" stroke="#1e1e1e" stroke-width="0.9"/>
<text x="304.40" y="125.56" font-size="6.8" text-anchor="middle" fill="#111" stroke="#111" stroke-width="0.12">27</text>
<circle cx="312.59" cy="127.11" r="4.75" fill="#fff" stroke="#1e1e1e" stroke-width="0.9"/>
<text x="312.59" y="129.41" font-size="6.8" text-anchor="middle" fill="#111" stroke="#111" stroke-width="0.12">6</text>
<circle cx="320.22" cy="131.95" r="4.6" fill="#fff" stroke="#000" stroke-width="1.6"/>
<text x="320.22" y="134.25" font-size="6.6" font-weight="bold" text-anchor="middle" fill="#000">14</text>
<circle cx="327.19" cy="137.71" r="4.75" fill="#fff" stroke="#1e1e1e" stroke-width="0.9"/>
<text x="327.19" y="140.01" font-size="6.8" text-anchor="middle" fill="#111" stroke="#111" stroke-width="0.12">45</text>
<circle cx="333.38" cy="144.31" r="4.75" fill="#fff" stroke="#1e1e1e" stroke-width="0.9"/>
<text x="333.38" y="146.61" font-size="6.8" text-anchor="middle" fill="#111" stroke="#111" stroke-width="0.12">26</text>
<circle cx="338.69" cy="151.62" r="4.75" fill="#fff" stroke="#1e1e1e" stroke-width="0.9"/>
<text x="338.69" y="153.92" font-size="6.8" text-anchor="middle" fill="#111" stroke="#111" stroke-width="0.12">4</text>
<circle cx="343.05" cy="159.54" r="4.6" fill="#fff" stroke="#000" stroke-width="1.6"/>
<text x="343.05" y="161.84" font-size="6.6" font-weight="bold" text-anchor="middle" fill="#000">3</text>
<circle cx="346.38" cy="167.95" r="4.6" fill="#fff" stroke="#000" stroke-width="1.6"/>
<text x="346.38" y="170.25" font-size="6.6" font-weight="bold" text-anchor="middle" fill="#000">46</text>
<circle cx="348.62" cy="176.71" r="4.75" fill="#fff" stroke="#1e1e1e" stroke-width="0.9"/>
<text x="348.62" y="179.01" font-size="6.8" text-anchor="middle" fill="#111" stroke="#111" stroke-width="0.12">41</text>
<circle cx="349.76" cy="185.68" r="4.75" fill="#fff" stroke="#1e1e1e" stroke-width="0.9"/>
<text x="349.76" y="187.98" font-size="6.8" text-anchor="middle" fill="#111" stroke="#111" stroke-width="0.12">28</text>
<circle cx="349.76" cy="194.72" r="4.75" fill="#fff" stroke="#1e1e1e" stroke-width="0.9"/>
<text x="349.76" y="197.02" font-size="6.8" text-anchor="middle" fill="#111" stroke="#111" stroke-width="0.12">34</text>
<circle cx="348.62" cy="203.69" r="4.75" fill="#fff" stroke="#1e1e1e" stroke-width="0.9"/>
<text x="348.62" y="205.99" font-size="6.8" text-anchor="middle" fill="#111" stroke="#111" stroke-width="0.12">33</text>
<circle cx="346.38" cy="212.45" r="4.75" fill="#fff" stroke="#1e1e1e" stroke-width="0.9"/>
<text x="346.38" y="214.75" font-size="6.8" text-anchor="middle" fill="#111" stroke="#111" stroke-width="0.12">40</text>
<circle cx="343.05" cy="220.86" r="4.6" fill="#fff" stroke="#000" stroke-width="1.6"/>
<text x="343.05" y="223.16" font-size="6.6" font-weight="bold" text-anchor="middle" fill="#000">43</text>
<circle cx="338.69" cy="228.78" r="4.75" fill="#fff" stroke="#1e1e1e" stroke-width="0.9"/>
<text x="338.69" y="231.08" font-size="6.8" text-anchor="middle" fill="#111" stroke="#111" stroke-width="0.12">0</text>
<circle cx="333.38" cy="236.09" r="4.75" fill="#fff" stroke="#1e1e1e" stroke-width="0.9"/>
<text x="333.38" y="238.39" font-size="6.8" text-anchor="middle" fill="#111" stroke="#111" stroke-width="0.12">5</text>
<circle cx="327.19" cy="242.69" r="4.75" fill="#fff" stroke="#1e1e1e" stroke-width="0.9"/>
<text x="327.19" y="244.99" font-size="6.8" text-anchor="middle" fill="#111" stroke="#111" stroke-width="0.12">30</text>
<circle cx="320.22" cy="248.45" r="4.75" fill="#fff" stroke="#1e1e1e" stroke-width="0.9"/>
<text x="320.22" y="250.75" font-size="6.8" text-anchor="middle" fill="#111" stroke="#111" stroke-width="0.12">2</text>
<circle cx="312.59" cy="253.29" r="4.75" fill="#fff" stroke="#1e1e1e" stroke-width="0.9"/>
<text x="312.59" y="255.59" font-size="6.8" text-anchor="middle" fill="#111" stroke="#111" stroke-width="0.12">47</text>
<circle cx="304.40" cy="257.14" r="4.75" fill="#fff" stroke="#1e1e1e" stroke-width="0.9"/>
<text x="304.40" y="259.44" font-size="6.8" text-anchor="middle" fill="#111" stroke="#111" stroke-width="0.12">32</text>
<circle cx="295.81" cy="259.94" r="4.75" fill="#fff" stroke="#1e1e1e" stroke-width="0.9"/>
<text x="295.81" y="262.24" font-size="6.8" text-anchor="middle" fill="#111" stroke="#111" stroke-width="0.12">17</text>
<circle cx="286.92" cy="261.63" r="4.75" fill="#fff" stroke="#1e1e1e" stroke-width="0.9"/>
<text x="286.92" y="263.93" font-size="6.8" text-anchor="middle" fill="#111" stroke="#111" stroke-width="0.12">36</text>
<circle cx="277.90" cy="262.20" r="4.75" fill="#fff" stroke="#1e1e1e" stroke-width="0.9"/>
<text x="277.90" y="264.50" font-size="6.8" text-anchor="middle" fill="#111" stroke="#111" stroke-width="0.12">8</text>
<circle cx="268.88" cy="261.63" r="4.75" fill="#fff" stroke="#1e1e1e" stroke-width="0.9"/>
<text x="268.88" y="263.93" font-size="6.8" text-anchor="middle" fill="#111" stroke="#111" stroke-width="0.12">18</text>
<circle cx="259.99" cy="259.94" r="4.75" fill="#fff" stroke="#1e1e1e" stroke-width="0.9"/>
<text x="259.99" y="262.24" font-size="6.8" text-anchor="middle" fill="#111" stroke="#111" stroke-width="0.12">13</text>
<circle cx="251.40" cy="257.14" r="4.75" fill="#fff" stroke="#1e1e1e" stroke-width="0.9"/>
<text x="251.40" y="259.44" font-size="6.8" text-anchor="middle" fill="#111" stroke="#111" stroke-width="0.12">21</text>
<circle cx="243.21" cy="253.29" r="4.6" fill="#fff" stroke="#000" stroke-width="1.6"/>
<text x="243.21" y="255.59" font-size="6.6" font-weight="bold" text-anchor="middle" fill="#000">10</text>
<circle cx="235.58" cy="248.45" r="4.6" fill="#fff" stroke="#000" stroke-width="1.6"/>
<text x="235.58" y="250.75" font-size="6.6" font-weight="bold" text-anchor="middle" fill="#000">15</text>
<circle cx="228.61" cy="242.69" r="4.75" fill="#fff" stroke="#1e1e1e" stroke-width="0.9"/>
<text x="228.61" y="244.99" font-size="6.8" text-anchor="middle" fill="#111" stroke="#111" stroke-width="0.12">38</text>
<circle cx="222.42" cy="236.09" r="4.75" fill="#fff" stroke="#1e1e1e" stroke-width="0.9"/>
<text x="222.42" y="238.39" font-size="6.8" text-anchor="middle" fill="#111" stroke="#111" stroke-width="0.12">24</text>
<circle cx="217.11" cy="228.78" r="4.75" fill="#fff" stroke="#1e1e1e" stroke-width="0.9"/>
<text x="217.11" y="231.08" font-size="6.8" text-anchor="middle" fill="#111" stroke="#111" stroke-width="0.12">23</text>
<circle cx="212.75" cy="220.86" r="4.75" fill="#fff" stroke="#1e1e1e" stroke-width="0.9"/>
<text x="212.75" y="223.16" font-size="6.8" text-anchor="middle" fill="#111" stroke="#111" stroke-width="0.12">20</text>
<circle cx="209.42" cy="212.45" r="4.75" fill="#fff" stroke="#1e1e1e" stroke-width="0.9"/>
<text x="209.42" y="214.75" font-size="6.8" text-anchor="middle" fill="#111" stroke="#111" stroke-width="0.12">44</text>
<circle cx="207.18" cy="203.69" r="4.6" fill="#fff" stroke="#000" stroke-width="1.6"/>
<text x="207.18" y="205.99" font-size="6.6" font-weight="bold" text-anchor="middle" fill="#000">31</text>
<circle cx="206.04" cy="194.72" r="4.75" fill="#fff" stroke="#1e1e1e" stroke-width="0.9"/>
<text x="206.04" y="197.02" font-size="6.8" text-anchor="middle" fill="#111" stroke="#111" stroke-width="0.12">12</text>
<circle cx="206.04" cy="185.68" r="4.75" fill="#fff" stroke="#1e1e1e" stroke-width="0.9"/>
<text x="206.04" y="187.98" font-size="6.8" text-anchor="middle" fill="#111" stroke="#111" stroke-width="0.12">39</text>
<circle cx="207.18" cy="176.71" r="4.75" fill="#fff" stroke="#1e1e1e" stroke-width="0.9"/>
<text x="207.18" y="179.01" font-size="6.8" text-anchor="middle" fill="#111" stroke="#111" stroke-width="0.12">48</text>
<circle cx="209.42" cy="167.95" r="4.75" fill="#fff" stroke="#1e1e1e" stroke-width="0.9"/>
<text x="209.42" y="170.25" font-size="6.8" text-anchor="middle" fill="#111" stroke="#111" stroke-width="0.12">29</text>
<circle cx="212.75" cy="159.54" r="4.75" fill="#fff" stroke="#1e1e1e" stroke-width="0.9"/>
<text x="212.75" y="161.84" font-size="6.8" text-anchor="middle" fill="#111" stroke="#111" stroke-width="0.12">22</text>
<circle cx="217.11" cy="151.62" r="4.75" fill="#fff" stroke="#1e1e1e" stroke-width="0.9"/>
<text x="217.11" y="153.92" font-size="6.8" text-anchor="middle" fill="#111" stroke="#111" stroke-width="0.12">7</text>
<circle cx="222.42" cy="144.31" r="4.75" fill="#fff" stroke="#1e1e1e" stroke-width="0.9"/>
<text x="222.42" y="146.61" font-size="6.8" text-anchor="middle" fill="#111" stroke="#111" stroke-width="0.12">11</text>
<circle cx="228.61" cy="137.71" r="4.75" fill="#fff" stroke="#1e1e1e" stroke-width="0.9"/>
<text x="228.61" y="140.01" font-size="6.8" text-anchor="middle" fill="#111" stroke="#111" stroke-width="0.12">37</text>
<circle cx="235.58" cy="131.95" r="4.75" fill="#fff" stroke="#1e1e1e" stroke-width="0.9"/>
<text x="235.58" y="134.25" font-size="6.8" text-anchor="middle" fill="#111" stroke="#111" stroke-width="0.12">16</text>
<circle cx="243.21" cy="127.11" r="4.6" fill="#fff" stroke="#000" stroke-width="1.6"/>
<text x="243.21" y="129.41" font-size="6.6" font-weight="bold" text-anchor="middle" fill="#000">25</text>
<circle cx="251.40" cy="123.26" r="4.6" fill="#fff" stroke="#000" stroke-width="1.6"/>
<text x="251.40" y="125.56" font-size="6.6" font-weight="bold" text-anchor="middle" fill="#000">1</text>
<circle cx="259.99" cy="120.46" r="4.75" fill="#fff" stroke="#1e1e1e" stroke-width="0.9"/>
<text x="259.99" y="122.76" font-size="6.8" text-anchor="middle" fill="#111" stroke="#111" stroke-width="0.12">49</text>
<circle cx="268.88" cy="118.77" r="4.75" fill="#fff" stroke="#1e1e1e" stroke-width="0.9"/>
<text x="268.88" y="121.07" font-size="6.8" text-anchor="middle" fill="#111" stroke="#111" stroke-width="0.12">9</text>
<text x="96.25" y="285.6" font-size="9.9" text-anchor="middle" fill="#222">(b) Earthquakes occur</text>
<text x="278.1" y="285.6" font-size="9.85" text-anchor="middle" fill="#222">(c) Earthquakes do not occur</text>
<text x="500" y="285.6" font-size="9.95" text-anchor="middle" fill="#222">(d) Different states</text>
<polygon points="401.54,69.91 403.75,71.76 406.41,66.75 409.29,69.65 411.51,68.59 414.17,64.91 417.05,68.81 419.93,70.16 422.58,72.50 424.80,66.38 427.01,65.19 429.67,62.04 431.89,69.78 434.77,67.69 437.65,71.32 440.31,62.47 443.19,65.89 445.18,66.54 448.06,58.81 450.28,67.33 453.16,57.59 455.81,72.00 458.69,62.09 460.91,67.76 460.91,87.09 458.69,82.40 455.81,90.58 453.16,76.33 450.28,86.29 448.06,80.12 445.18,87.19 443.19,84.42 440.31,80.91 437.65,90.44 434.77,87.04 431.89,86.55 429.67,79.66 427.01,83.88 424.80,85.68 422.58,90.99 419.93,88.31 417.05,88.73 414.17,85.54 411.51,88.13 409.29,87.75 406.41,83.26 403.75,89.52 401.54,88.96" fill="#d3e4f2"/>
<polyline points="401.54,81.40 403.75,82.06 406.41,75.41 409.29,77.63 411.51,76.52 414.17,74.31 417.05,77.63 419.93,79.18 422.58,80.95 424.80,76.52 427.01,75.41 429.67,71.43 431.89,78.74 434.77,76.96 437.65,80.51 440.31,72.09 443.19,76.52 445.18,78.74 448.06,70.98 450.28,77.63 453.16,67.66 455.81,82.06 458.69,73.20 460.91,78.74" fill="none" stroke="#2b7bba" stroke-width="1.05" stroke-linejoin="round"/>
<rect x="398.5" y="31.7" width="64.8" height="62.8" fill="none" stroke="#1a1a1a" stroke-width="0.85"/>
<text x="430.90" y="28.60" font-size="6.9" font-weight="bold" text-anchor="middle" fill="#111">State 15</text>
<line x1="396.70" y1="31.70" x2="398.50" y2="31.70" stroke="#222" stroke-width="0.6"/>
<text x="395.90" y="33.50" font-size="5.2" font-weight="bold" text-anchor="end" fill="#111">0.6</text>
<line x1="396.70" y1="52.60" x2="398.50" y2="52.60" stroke="#222" stroke-width="0.6"/>
<text x="395.90" y="54.40" font-size="5.2" font-weight="bold" text-anchor="end" fill="#111">0.3</text>
<line x1="396.70" y1="73.50" x2="398.50" y2="73.50" stroke="#222" stroke-width="0.6"/>
<text x="395.90" y="75.30" font-size="5.2" font-weight="bold" text-anchor="end" fill="#111">0.0</text>
<line x1="396.70" y1="94.40" x2="398.50" y2="94.40" stroke="#222" stroke-width="0.6"/>
<text x="395.90" y="96.20" font-size="5.2" font-weight="bold" text-anchor="end" fill="#111">&#8722;0.3</text>
<text transform="translate(383.00,63.10) rotate(-90)" font-size="6.7" font-weight="bold" text-anchor="middle" fill="#111">Richter scale</text>
<line x1="401.10" y1="94.50" x2="401.10" y2="96.30" stroke="#222" stroke-width="0.6"/>
<line x1="426.90" y1="94.50" x2="426.90" y2="96.30" stroke="#222" stroke-width="0.6"/>
<line x1="452.70" y1="94.50" x2="452.70" y2="96.30" stroke="#222" stroke-width="0.6"/>
<polygon points="479.54,67.35 481.75,62.10 484.41,60.18 487.29,58.38 489.51,65.99 492.17,62.12 495.05,58.56 497.93,64.96 500.58,69.08 503.91,67.61 506.79,65.25 508.34,65.66 512.77,56.25 515.65,57.76 518.31,60.10 520.96,74.91 523.18,64.52 526.06,59.99 528.28,68.35 531.16,68.50 533.81,64.06 536.03,55.75 538.91,60.04 538.91,84.18 536.03,75.94 533.81,79.67 531.16,85.63 528.28,90.31 526.06,82.75 523.18,86.08 520.96,93.60 518.31,80.09 515.65,75.98 512.77,73.61 508.34,84.42 506.79,82.36 503.91,83.51 500.58,84.15 497.93,82.78 495.05,78.10 492.17,80.72 489.51,81.95 487.29,75.26 484.41,78.12 481.75,80.75 479.54,83.95" fill="#d3e4f2"/>
<polyline points="479.54,75.86 481.75,72.53 484.41,70.98 487.29,68.10 489.51,74.75 492.17,72.09 495.05,69.43 497.93,74.75 500.58,76.96 503.91,75.64 506.79,74.31 508.34,76.96 512.77,65.00 515.65,66.55 518.31,68.77 520.96,84.28 523.18,75.41 526.06,71.43 528.28,79.18 531.16,76.52 533.81,70.98 536.03,65.45 538.91,72.53" fill="none" stroke="#2b7bba" stroke-width="1.05" stroke-linejoin="round"/>
<rect x="476.5" y="31.7" width="64.8" height="62.8" fill="none" stroke="#1a1a1a" stroke-width="0.85"/>
<text x="508.90" y="28.60" font-size="6.9" font-weight="bold" text-anchor="middle" fill="#111">State 16</text>
<line x1="474.70" y1="31.70" x2="476.50" y2="31.70" stroke="#222" stroke-width="0.6"/>
<line x1="474.70" y1="52.60" x2="476.50" y2="52.60" stroke="#222" stroke-width="0.6"/>
<line x1="474.70" y1="73.50" x2="476.50" y2="73.50" stroke="#222" stroke-width="0.6"/>
<line x1="474.70" y1="94.40" x2="476.50" y2="94.40" stroke="#222" stroke-width="0.6"/>
<line x1="479.10" y1="94.50" x2="479.10" y2="96.30" stroke="#222" stroke-width="0.6"/>
<line x1="504.90" y1="94.50" x2="504.90" y2="96.30" stroke="#222" stroke-width="0.6"/>
<line x1="530.70" y1="94.50" x2="530.70" y2="96.30" stroke="#222" stroke-width="0.6"/>
<polygon points="557.54,53.54 560.20,65.20 563.08,59.25 565.74,57.03 567.95,54.41 570.83,59.24 573.05,40.89 575.70,56.90 578.14,57.59 580.80,52.55 583.01,64.46 585.67,60.05 587.89,61.44 590.77,67.46 593.43,65.95 596.31,47.63 598.52,45.44 601.18,61.52 603.62,51.52 606.28,56.13 609.16,58.19 611.81,74.71 614.47,64.76 616.91,72.05 616.91,94.50 614.47,87.02 611.81,94.50 609.16,80.42 606.28,80.72 603.62,77.40 601.18,89.19 598.52,77.36 596.31,80.03 593.43,94.50 590.77,94.50 587.89,85.29 585.67,84.15 583.01,89.65 580.80,80.73 578.14,82.64 575.70,79.60 573.05,62.22 570.83,82.99 567.95,76.80 565.74,78.74 563.08,83.93 560.20,92.53 557.54,83.78" fill="#d3e4f2"/>
<polyline points="557.54,70.98 560.20,79.18 563.08,69.88 565.74,67.22 567.95,67.22 570.83,74.31 573.05,53.93 575.70,69.43 578.14,69.88 580.80,65.89 583.01,76.08 585.67,70.98 587.89,71.65 590.77,79.84 593.43,80.51 596.31,64.34 598.52,61.46 601.18,75.41 603.62,62.79 606.28,65.45 609.16,65.89 611.81,83.17 614.47,74.31 616.91,82.72" fill="none" stroke="#2b7bba" stroke-width="1.05" stroke-linejoin="round"/>
<rect x="554.5" y="31.7" width="64.8" height="62.8" fill="none" stroke="#1a1a1a" stroke-width="0.85"/>
<text x="586.90" y="28.60" font-size="6.9" font-weight="bold" text-anchor="middle" fill="#111">State 43</text>
<line x1="552.70" y1="31.70" x2="554.50" y2="31.70" stroke="#222" stroke-width="0.6"/>
<line x1="552.70" y1="52.60" x2="554.50" y2="52.60" stroke="#222" stroke-width="0.6"/>
<line x1="552.70" y1="73.50" x2="554.50" y2="73.50" stroke="#222" stroke-width="0.6"/>
<line x1="552.70" y1="94.40" x2="554.50" y2="94.40" stroke="#222" stroke-width="0.6"/>
<line x1="557.10" y1="94.50" x2="557.10" y2="96.30" stroke="#222" stroke-width="0.6"/>
<line x1="582.90" y1="94.50" x2="582.90" y2="96.30" stroke="#222" stroke-width="0.6"/>
<line x1="608.70" y1="94.50" x2="608.70" y2="96.30" stroke="#222" stroke-width="0.6"/>
<polygon points="401.54,148.37 404.20,147.91 407.08,148.13 409.29,147.44 411.51,144.78 413.72,143.31 416.60,140.05 419.26,140.60 421.48,144.06 424.36,139.91 426.57,143.57 429.67,138.60 432.55,141.63 435.43,142.24 438.09,143.61 440.31,142.56 442.52,145.15 445.18,139.48 448.06,142.67 450.28,142.61 453.16,139.09 455.81,139.67 458.47,143.51 460.91,145.54 460.91,157.61 458.47,155.90 455.81,151.85 453.16,150.73 450.28,153.55 448.06,152.40 445.18,149.29 442.52,155.60 440.31,154.70 438.09,154.98 435.43,153.58 432.55,153.07 429.67,150.86 426.57,155.46 424.36,150.70 421.48,154.67 419.26,151.86 416.60,151.45 413.72,155.34 411.51,154.40 409.29,157.47 407.08,159.20 404.20,161.33 401.54,162.44" fill="#d3e4f2"/>
<polyline points="401.54,154.18 404.20,153.74 407.08,153.29 409.29,153.29 411.51,151.08 413.72,150.41 416.60,145.98 419.26,145.98 421.48,148.86 424.36,144.88 426.57,149.31 429.67,145.54 432.55,148.20 435.43,148.64 438.09,149.31 440.31,148.86 442.52,150.41 445.18,144.88 448.06,148.20 450.28,148.86 453.16,145.32 455.81,145.32 458.47,149.31 460.91,151.52" fill="none" stroke="#2b7bba" stroke-width="1.05" stroke-linejoin="round"/>
<rect x="398.5" y="107.0" width="64.8" height="62.8" fill="none" stroke="#1a1a1a" stroke-width="0.85"/>
<text x="430.90" y="103.90" font-size="6.9" font-weight="bold" text-anchor="middle" fill="#111">State 1</text>
<line x1="396.70" y1="107.00" x2="398.50" y2="107.00" stroke="#222" stroke-width="0.6"/>
<text x="395.90" y="108.80" font-size="5.2" font-weight="bold" text-anchor="end" fill="#111">0.6</text>
<line x1="396.70" y1="127.90" x2="398.50" y2="127.90" stroke="#222" stroke-width="0.6"/>
<text x="395.90" y="129.70" font-size="5.2" font-weight="bold" text-anchor="end" fill="#111">0.3</text>
<line x1="396.70" y1="148.80" x2="398.50" y2="148.80" stroke="#222" stroke-width="0.6"/>
<text x="395.90" y="150.60" font-size="5.2" font-weight="bold" text-anchor="end" fill="#111">0.0</text>
<line x1="396.70" y1="169.70" x2="398.50" y2="169.70" stroke="#222" stroke-width="0.6"/>
<text x="395.90" y="171.50" font-size="5.2" font-weight="bold" text-anchor="end" fill="#111">&#8722;0.3</text>
<text transform="translate(383.00,138.40) rotate(-90)" font-size="6.7" font-weight="bold" text-anchor="middle" fill="#111">Richter scale</text>
<line x1="401.10" y1="169.80" x2="401.10" y2="171.60" stroke="#222" stroke-width="0.6"/>
<line x1="426.90" y1="169.80" x2="426.90" y2="171.60" stroke="#222" stroke-width="0.6"/>
<line x1="452.70" y1="169.80" x2="452.70" y2="171.60" stroke="#222" stroke-width="0.6"/>
<polygon points="479.54,136.53 482.20,143.53 485.08,141.28 487.74,141.41 489.95,142.93 492.83,139.65 495.05,138.53 497.26,142.86 499.92,139.77 502.36,145.70 505.01,150.95 507.67,139.88 509.89,140.95 512.77,136.20 515.65,139.42 518.31,142.98 520.96,140.07 523.18,137.42 526.06,141.23 528.94,139.28 531.16,138.68 533.37,137.12 536.03,146.90 538.91,142.35 538.91,156.50 536.03,160.96 533.37,152.40 531.16,152.21 528.94,154.14 526.06,156.78 523.18,154.51 520.96,156.68 518.31,160.44 515.65,158.17 512.77,155.80 509.89,158.14 507.67,153.91 505.01,165.91 502.36,162.04 499.92,157.62 497.26,158.81 495.05,155.25 492.83,155.85 489.95,159.70 487.74,156.98 485.08,156.48 482.20,158.01 479.54,150.21" fill="#d3e4f2"/>
<polyline points="479.54,144.43 482.20,152.63 485.08,150.41 487.74,150.41 489.95,151.08 492.83,147.09 495.05,145.98 497.26,150.41 499.92,148.86 502.36,153.74 505.01,158.17 507.67,145.32 509.89,148.20 512.77,144.43 515.65,147.53 518.31,151.52 520.96,149.31 523.18,148.20 526.06,151.08 528.94,147.09 531.16,144.88 533.37,143.10 536.03,152.63 538.91,148.20" fill="none" stroke="#2b7bba" stroke-width="1.05" stroke-linejoin="round"/>
<rect x="476.5" y="107.0" width="64.8" height="62.8" fill="none" stroke="#1a1a1a" stroke-width="0.85"/>
<text x="508.90" y="103.90" font-size="6.9" font-weight="bold" text-anchor="middle" fill="#111">State 25</text>
<line x1="474.70" y1="107.00" x2="476.50" y2="107.00" stroke="#222" stroke-width="0.6"/>
<line x1="474.70" y1="127.90" x2="476.50" y2="127.90" stroke="#222" stroke-width="0.6"/>
<line x1="474.70" y1="148.80" x2="476.50" y2="148.80" stroke="#222" stroke-width="0.6"/>
<line x1="474.70" y1="169.70" x2="476.50" y2="169.70" stroke="#222" stroke-width="0.6"/>
<line x1="479.10" y1="169.80" x2="479.10" y2="171.60" stroke="#222" stroke-width="0.6"/>
<line x1="504.90" y1="169.80" x2="504.90" y2="171.60" stroke="#222" stroke-width="0.6"/>
<line x1="530.70" y1="169.80" x2="530.70" y2="171.60" stroke="#222" stroke-width="0.6"/>
<polygon points="557.54,131.27 560.20,121.95 563.08,137.19 565.74,135.87 567.95,135.36 570.83,131.27 573.05,121.06 575.26,109.24 577.92,130.59 580.36,134.28 583.01,131.12 585.67,123.16 587.89,121.19 590.77,141.39 592.98,124.54 595.86,137.40 598.52,125.80 600.74,135.10 603.40,118.80 606.28,132.69 609.16,134.53 611.37,140.26 614.03,121.08 616.91,128.88 616.91,169.08 614.03,158.06 611.37,169.80 609.16,167.59 606.28,167.13 603.40,156.26 600.74,168.44 598.52,165.29 595.86,169.80 592.98,158.92 590.77,169.80 587.89,153.31 585.67,159.30 583.01,167.69 580.36,169.80 577.92,167.47 575.26,143.04 573.05,157.76 570.83,166.59 567.95,169.79 565.74,169.44 563.08,169.80 560.20,160.65 557.54,166.22" fill="#d3e4f2"/>
<polyline points="557.54,150.41 560.20,142.22 563.08,155.51 565.74,150.41 567.95,148.20 570.83,144.88 573.05,139.34 575.26,129.37 577.92,152.63 580.36,154.84 583.01,151.52 585.67,140.89 587.89,138.23 590.77,155.51 592.98,143.10 595.86,153.74 598.52,145.98 600.74,150.41 603.40,137.79 606.28,148.86 609.16,152.63 611.37,159.28 614.03,138.23 616.91,143.77" fill="none" stroke="#2b7bba" stroke-width="1.05" stroke-linejoin="round"/>
<rect x="554.5" y="107.0" width="64.8" height="62.8" fill="none" stroke="#1a1a1a" stroke-width="0.85"/>
<text x="586.90" y="103.90" font-size="6.9" font-weight="bold" text-anchor="middle" fill="#111">State 3</text>
<line x1="552.70" y1="119.50" x2="554.50" y2="119.50" stroke="#222" stroke-width="0.6"/>
<line x1="552.70" y1="132.80" x2="554.50" y2="132.80" stroke="#222" stroke-width="0.6"/>
<line x1="552.70" y1="146.10" x2="554.50" y2="146.10" stroke="#222" stroke-width="0.6"/>
<line x1="552.70" y1="159.40" x2="554.50" y2="159.40" stroke="#222" stroke-width="0.6"/>
<line x1="557.10" y1="169.80" x2="557.10" y2="171.60" stroke="#222" stroke-width="0.6"/>
<line x1="582.90" y1="169.80" x2="582.90" y2="171.60" stroke="#222" stroke-width="0.6"/>
<line x1="608.70" y1="169.80" x2="608.70" y2="171.60" stroke="#222" stroke-width="0.6"/>
<polygon points="401.54,205.38 404.20,212.15 407.08,205.07 409.74,204.61 411.95,201.16 414.39,195.62 417.05,204.84 419.26,202.22 422.14,209.01 424.36,208.25 427.01,196.55 429.67,205.68 431.89,206.07 434.77,212.89 436.98,211.47 439.86,217.02 442.52,215.64 445.18,209.31 448.06,204.80 450.28,207.89 453.16,204.62 455.81,198.25 458.47,199.54 460.91,205.19 460.91,232.19 458.47,226.31 455.81,224.60 453.16,231.07 450.28,234.22 448.06,229.44 445.18,233.42 442.52,237.34 439.86,241.07 436.98,234.22 434.77,237.71 431.89,232.99 429.67,232.18 427.01,220.26 424.36,228.00 422.14,233.40 419.26,230.32 417.05,235.39 414.39,221.58 411.95,226.34 409.74,227.62 407.08,231.41 404.20,238.45 401.54,232.44" fill="#d3e4f2"/>
<polyline points="401.54,222.53 404.20,228.74 407.08,221.65 409.74,219.43 411.95,215.45 414.39,209.91 417.05,221.65 419.26,218.77 422.14,222.53 424.36,219.88 427.01,209.91 429.67,218.77 431.89,218.77 434.77,225.41 436.98,225.41 439.86,230.51 442.52,226.52 445.18,222.09 448.06,218.10 450.28,221.65 453.16,217.22 455.81,212.79 458.47,214.34 460.91,219.43" fill="none" stroke="#2b7bba" stroke-width="1.05" stroke-linejoin="round"/>
<rect x="398.5" y="182.29999999999998" width="64.8" height="62.8" fill="none" stroke="#1a1a1a" stroke-width="0.85"/>
<text x="430.90" y="179.20" font-size="6.9" font-weight="bold" text-anchor="middle" fill="#111">State 14</text>
<line x1="396.70" y1="182.30" x2="398.50" y2="182.30" stroke="#222" stroke-width="0.6"/>
<text x="395.90" y="184.10" font-size="5.2" font-weight="bold" text-anchor="end" fill="#111">0.6</text>
<line x1="396.70" y1="203.20" x2="398.50" y2="203.20" stroke="#222" stroke-width="0.6"/>
<text x="395.90" y="205.00" font-size="5.2" font-weight="bold" text-anchor="end" fill="#111">0.3</text>
<line x1="396.70" y1="224.10" x2="398.50" y2="224.10" stroke="#222" stroke-width="0.6"/>
<text x="395.90" y="225.90" font-size="5.2" font-weight="bold" text-anchor="end" fill="#111">0.0</text>
<line x1="396.70" y1="245.00" x2="398.50" y2="245.00" stroke="#222" stroke-width="0.6"/>
<text x="395.90" y="246.80" font-size="5.2" font-weight="bold" text-anchor="end" fill="#111">&#8722;0.3</text>
<text transform="translate(383.00,213.70) rotate(-90)" font-size="6.7" font-weight="bold" text-anchor="middle" fill="#111">Richter scale</text>
<line x1="401.10" y1="245.10" x2="401.10" y2="246.90" stroke="#222" stroke-width="0.6"/>
<text x="401.10" y="252.70" font-size="5.4" font-weight="bold" text-anchor="middle" fill="#111">0</text>
<line x1="411.42" y1="245.10" x2="411.42" y2="246.90" stroke="#222" stroke-width="0.6"/>
<text x="411.42" y="252.70" font-size="5.4" font-weight="bold" text-anchor="middle" fill="#111">4</text>
<line x1="421.74" y1="245.10" x2="421.74" y2="246.90" stroke="#222" stroke-width="0.6"/>
<text x="421.74" y="252.70" font-size="5.4" font-weight="bold" text-anchor="middle" fill="#111">8</text>
<line x1="432.06" y1="245.10" x2="432.06" y2="246.90" stroke="#222" stroke-width="0.6"/>
<text x="432.06" y="252.70" font-size="5.4" font-weight="bold" text-anchor="middle" fill="#111">12</text>
<line x1="442.38" y1="245.10" x2="442.38" y2="246.90" stroke="#222" stroke-width="0.6"/>
<text x="442.38" y="252.70" font-size="5.4" font-weight="bold" text-anchor="middle" fill="#111">16</text>
<line x1="452.70" y1="245.10" x2="452.70" y2="246.90" stroke="#222" stroke-width="0.6"/>
<text x="452.70" y="252.70" font-size="5.4" font-weight="bold" text-anchor="middle" fill="#111">20</text>
<line x1="463.02" y1="245.10" x2="463.02" y2="246.90" stroke="#222" stroke-width="0.6"/>
<text x="463.02" y="252.70" font-size="5.4" font-weight="bold" text-anchor="middle" fill="#111">24</text>
<text x="430.90" y="260.70" font-size="6.8" font-weight="bold" text-anchor="middle" fill="#111">Hour</text>
<polygon points="479.54,208.54 482.20,212.68 485.08,217.94 487.74,200.53 489.95,209.36 492.39,214.57 495.05,213.27 497.93,204.12 500.58,208.17 502.80,213.73 505.01,206.57 507.67,215.45 509.89,196.55 512.77,216.18 515.43,205.10 518.31,214.80 520.52,216.99 523.18,211.41 526.06,210.30 528.28,203.33 531.16,202.79 533.81,204.77 536.03,210.49 538.91,203.33 538.91,229.93 536.03,238.50 533.81,235.28 531.16,237.76 528.28,240.88 526.06,241.81 523.18,240.20 520.52,239.20 518.31,243.19 515.43,229.52 512.77,241.94 509.89,218.78 507.67,238.73 505.01,229.92 502.80,237.53 500.58,236.77 497.93,233.35 495.05,245.10 492.39,241.97 489.95,236.39 487.74,227.45 485.08,245.10 482.20,240.70 479.54,232.50" fill="#d3e4f2"/>
<polyline points="479.54,220.32 482.20,226.52 485.08,233.17 487.74,213.67 489.95,223.20 492.39,229.84 495.05,229.84 497.93,219.43 500.58,220.98 502.80,224.31 505.01,216.55 507.67,226.96 509.89,208.36 512.77,229.84 515.43,217.22 518.31,227.63 520.52,226.52 523.18,224.31 526.06,225.41 528.28,222.09 531.16,219.88 533.81,218.77 536.03,222.09 538.91,213.67" fill="none" stroke="#2b7bba" stroke-width="1.05" stroke-linejoin="round"/>
<rect x="476.5" y="182.29999999999998" width="64.8" height="62.8" fill="none" stroke="#1a1a1a" stroke-width="0.85"/>
<text x="508.90" y="179.20" font-size="6.9" font-weight="bold" text-anchor="middle" fill="#111">State 31</text>
<line x1="474.70" y1="182.30" x2="476.50" y2="182.30" stroke="#222" stroke-width="0.6"/>
<line x1="474.70" y1="203.20" x2="476.50" y2="203.20" stroke="#222" stroke-width="0.6"/>
<line x1="474.70" y1="224.10" x2="476.50" y2="224.10" stroke="#222" stroke-width="0.6"/>
<line x1="474.70" y1="245.00" x2="476.50" y2="245.00" stroke="#222" stroke-width="0.6"/>
<line x1="479.10" y1="245.10" x2="479.10" y2="246.90" stroke="#222" stroke-width="0.6"/>
<text x="479.10" y="252.70" font-size="5.4" font-weight="bold" text-anchor="middle" fill="#111">0</text>
<line x1="489.42" y1="245.10" x2="489.42" y2="246.90" stroke="#222" stroke-width="0.6"/>
<text x="489.42" y="252.70" font-size="5.4" font-weight="bold" text-anchor="middle" fill="#111">4</text>
<line x1="499.74" y1="245.10" x2="499.74" y2="246.90" stroke="#222" stroke-width="0.6"/>
<text x="499.74" y="252.70" font-size="5.4" font-weight="bold" text-anchor="middle" fill="#111">8</text>
<line x1="510.06" y1="245.10" x2="510.06" y2="246.90" stroke="#222" stroke-width="0.6"/>
<text x="510.06" y="252.70" font-size="5.4" font-weight="bold" text-anchor="middle" fill="#111">12</text>
<line x1="520.38" y1="245.10" x2="520.38" y2="246.90" stroke="#222" stroke-width="0.6"/>
<text x="520.38" y="252.70" font-size="5.4" font-weight="bold" text-anchor="middle" fill="#111">16</text>
<line x1="530.70" y1="245.10" x2="530.70" y2="246.90" stroke="#222" stroke-width="0.6"/>
<text x="530.70" y="252.70" font-size="5.4" font-weight="bold" text-anchor="middle" fill="#111">20</text>
<line x1="541.02" y1="245.10" x2="541.02" y2="246.90" stroke="#222" stroke-width="0.6"/>
<text x="541.02" y="252.70" font-size="5.4" font-weight="bold" text-anchor="middle" fill="#111">24</text>
<text x="508.90" y="260.70" font-size="6.8" font-weight="bold" text-anchor="middle" fill="#111">Hour</text>
<polygon points="557.54,203.26 560.20,198.83 563.08,235.38 565.29,214.34 567.95,235.38 570.39,198.83 573.05,240.26 575.93,240.26 578.58,240.26 580.80,240.26 583.01,194.40 585.67,235.38 587.89,198.83 590.77,204.37 593.65,211.01 596.31,233.17 598.52,217.66 601.18,206.58 604.06,195.51 606.28,192.18 609.16,235.38 611.37,185.54 614.03,235.38 616.91,240.26 616.91,240.26 614.03,240.26 611.37,228.07 609.16,240.26 606.28,213.89 604.06,236.93 601.18,234.28 598.52,239.15 596.31,240.26 593.65,235.38 590.77,233.83 587.89,232.06 585.67,240.26 583.01,223.64 580.80,240.26 578.58,240.26 575.93,240.26 573.05,240.26 570.39,224.97 567.95,240.26 565.29,237.60 563.08,240.26 560.20,225.41 557.54,234.72" fill="#d3e4f2"/>
<polyline points="557.54,229.18 560.20,219.88 563.08,240.26 565.29,232.06 567.95,239.37 570.39,219.43 573.05,240.26 575.93,240.26 578.58,240.26 580.80,240.26 583.01,218.10 585.67,240.26 587.89,226.52 590.77,228.29 593.65,229.84 596.31,240.26 598.52,233.61 601.18,228.74 604.06,231.40 606.28,208.36 609.16,240.26 611.37,222.53 614.03,240.26 616.91,240.26" fill="none" stroke="#2b7bba" stroke-width="1.05" stroke-linejoin="round"/>
<rect x="554.5" y="182.29999999999998" width="64.8" height="62.8" fill="none" stroke="#1a1a1a" stroke-width="0.85"/>
<text x="586.90" y="179.20" font-size="6.9" font-weight="bold" text-anchor="middle" fill="#111">State 46</text>
<line x1="552.70" y1="183.60" x2="554.50" y2="183.60" stroke="#222" stroke-width="0.6"/>
<text x="551.90" y="185.40" font-size="5.2" font-weight="bold" text-anchor="end" fill="#111">2.5</text>
<line x1="552.70" y1="193.25" x2="554.50" y2="193.25" stroke="#222" stroke-width="0.6"/>
<text x="551.90" y="195.05" font-size="5.2" font-weight="bold" text-anchor="end" fill="#111">2.0</text>
<line x1="552.70" y1="202.90" x2="554.50" y2="202.90" stroke="#222" stroke-width="0.6"/>
<text x="551.90" y="204.70" font-size="5.2" font-weight="bold" text-anchor="end" fill="#111">1.5</text>
<line x1="552.70" y1="212.55" x2="554.50" y2="212.55" stroke="#222" stroke-width="0.6"/>
<text x="551.90" y="214.35" font-size="5.2" font-weight="bold" text-anchor="end" fill="#111">1.0</text>
<line x1="552.70" y1="222.20" x2="554.50" y2="222.20" stroke="#222" stroke-width="0.6"/>
<text x="551.90" y="224.00" font-size="5.2" font-weight="bold" text-anchor="end" fill="#111">0.5</text>
<line x1="552.70" y1="231.85" x2="554.50" y2="231.85" stroke="#222" stroke-width="0.6"/>
<text x="551.90" y="233.65" font-size="5.2" font-weight="bold" text-anchor="end" fill="#111">0.0</text>
<line x1="552.70" y1="241.50" x2="554.50" y2="241.50" stroke="#222" stroke-width="0.6"/>
<text x="551.90" y="243.30" font-size="5.2" font-weight="bold" text-anchor="end" fill="#111">&#8722;0.5</text>
<line x1="557.10" y1="245.10" x2="557.10" y2="246.90" stroke="#222" stroke-width="0.6"/>
<text x="557.10" y="252.70" font-size="5.4" font-weight="bold" text-anchor="middle" fill="#111">0</text>
<line x1="567.42" y1="245.10" x2="567.42" y2="246.90" stroke="#222" stroke-width="0.6"/>
<text x="567.42" y="252.70" font-size="5.4" font-weight="bold" text-anchor="middle" fill="#111">4</text>
<line x1="577.74" y1="245.10" x2="577.74" y2="246.90" stroke="#222" stroke-width="0.6"/>
<text x="577.74" y="252.70" font-size="5.4" font-weight="bold" text-anchor="middle" fill="#111">8</text>
<line x1="588.06" y1="245.10" x2="588.06" y2="246.90" stroke="#222" stroke-width="0.6"/>
<text x="588.06" y="252.70" font-size="5.4" font-weight="bold" text-anchor="middle" fill="#111">12</text>
<line x1="598.38" y1="245.10" x2="598.38" y2="246.90" stroke="#222" stroke-width="0.6"/>
<text x="598.38" y="252.70" font-size="5.4" font-weight="bold" text-anchor="middle" fill="#111">16</text>
<line x1="608.70" y1="245.10" x2="608.70" y2="246.90" stroke="#222" stroke-width="0.6"/>
<text x="608.70" y="252.70" font-size="5.4" font-weight="bold" text-anchor="middle" fill="#111">20</text>
<line x1="619.02" y1="245.10" x2="619.02" y2="246.90" stroke="#222" stroke-width="0.6"/>
<text x="619.02" y="252.70" font-size="5.4" font-weight="bold" text-anchor="middle" fill="#111">24</text>
<text x="586.90" y="260.70" font-size="6.8" font-weight="bold" text-anchor="middle" fill="#111">Hour</text>
<text x="0.6" y="302.8" font-size="13.3" font-weight="bold" fill="#111">1: An example of <tspan font-style="italic">evolutionary state graph</tspan> constructed by our method based on the Earthquakes dataset.</text>
<text x="589.6" y="302.8" font-size="13.3" font-weight="bold" fill="#111">(a)</text>
<text x="604.9" y="302.8" font-size="13.3" font-weight="bold" fill="#111">i</text>
<text x="636.0" y="302.8" font-size="13.3" font-weight="bold" fill="#111">l</text>
</svg></body></html>
